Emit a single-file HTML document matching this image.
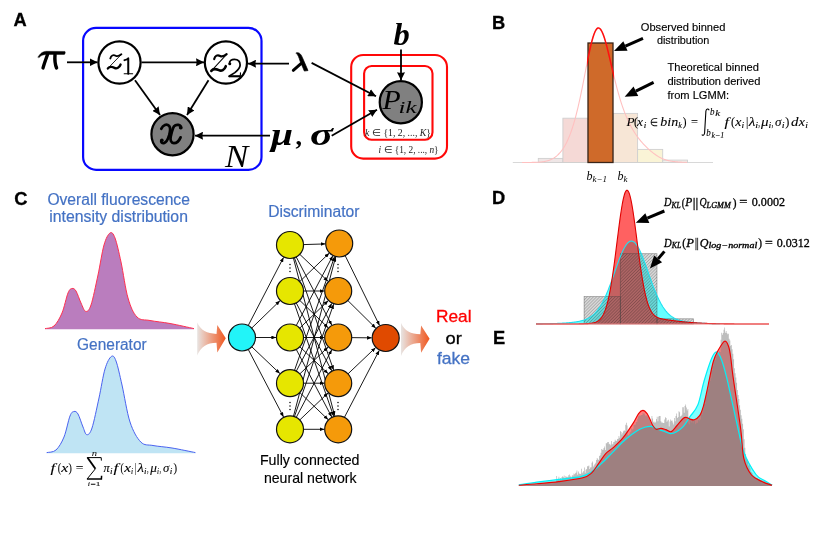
<!DOCTYPE html>
<html><head><meta charset="utf-8"><style>
html,body{margin:0;padding:0;background:#fff;}
svg{display:block;}
</style></head><body>
<svg width="822" height="560" viewBox="0 0 822 560" style="will-change:transform">
<rect width="822" height="560" fill="#fff"/>
<text x="13.6" y="25.8" font-family="Liberation Sans, sans-serif" font-weight="bold" font-size="18.3" stroke="#000" stroke-width="0.3">A</text>
<text x="492" y="29.2" font-family="Liberation Sans, sans-serif" font-weight="bold" font-size="18.3" stroke="#000" stroke-width="0.3">B</text>
<text x="14.2" y="204.5" font-family="Liberation Sans, sans-serif" font-weight="bold" font-size="18.3" stroke="#000" stroke-width="0.3">C</text>
<text x="492" y="204.2" font-family="Liberation Sans, sans-serif" font-weight="bold" font-size="18.3" stroke="#000" stroke-width="0.3">D</text>
<text x="493" y="343.8" font-family="Liberation Sans, sans-serif" font-weight="bold" font-size="18.3" stroke="#000" stroke-width="0.3">E</text>
<defs><marker id="ah" viewBox="0 0 10 10" refX="10" refY="5" markerWidth="8" markerHeight="8" markerUnits="userSpaceOnUse" orient="auto"><path d="M0,0 L10,5 L0,10 L0.8,5 z" fill="#000"/></marker></defs>
<rect x="83.1" y="27.9" width="178.4" height="142" rx="13" fill="none" stroke="#0808ff" stroke-width="2.2"/>
<rect x="351.2" y="55" width="95.8" height="103.6" rx="12" fill="none" stroke="#ff0808" stroke-width="2.1"/>
<rect x="364.1" y="66" width="68.4" height="73.8" rx="7.5" fill="none" stroke="#ff0808" stroke-width="2.1"/>
<line x1="67" y1="62.3" x2="97.5" y2="62.3" stroke="#000" stroke-width="1.8" marker-end="url(#ah)"/>
<line x1="141.5" y1="62.3" x2="204" y2="62.3" stroke="#000" stroke-width="1.8" marker-end="url(#ah)"/>
<line x1="135" y1="80.2" x2="160" y2="115" stroke="#000" stroke-width="1.8" marker-end="url(#ah)"/>
<line x1="208.5" y1="80.2" x2="187" y2="115" stroke="#000" stroke-width="1.8" marker-end="url(#ah)"/>
<line x1="270" y1="135.7" x2="195" y2="135.7" stroke="#000" stroke-width="1.8" marker-end="url(#ah)"/>
<line x1="289" y1="63.7" x2="248" y2="63.7" stroke="#000" stroke-width="1.8" marker-end="url(#ah)"/>
<line x1="311.6" y1="62.9" x2="376" y2="96.3" stroke="#000" stroke-width="1.8" marker-end="url(#ah)"/>
<line x1="331.7" y1="135.7" x2="377" y2="109.7" stroke="#000" stroke-width="1.8" marker-end="url(#ah)"/>
<line x1="401" y1="49.5" x2="401" y2="80.3" stroke="#000" stroke-width="1.8" marker-end="url(#ah)"/>
<circle cx="119.5" cy="62.5" r="21.1" fill="#fff" stroke="#000" stroke-width="2.2"/>
<circle cx="225.9" cy="62.5" r="21.1" fill="#fff" stroke="#000" stroke-width="2.2"/>
<circle cx="172.5" cy="134.2" r="21.1" fill="#808080" stroke="#000" stroke-width="2.2"/>
<circle cx="400.8" cy="102.2" r="21.1" fill="#808080" stroke="#000" stroke-width="2.2"/>
<g transform="translate(100,45) scale(0.06250)" fill="none" stroke="#000" stroke-linecap="round" stroke-linejoin="round"><path d="M165,215 C178,168 212,150 250,172 C285,192 312,172 342,148" stroke-width="30"/><path d="M342,150 L122,378" stroke-width="14"/><path d="M125,376 C152,342 192,348 232,366 C268,384 312,362 330,312" stroke-width="36"/><path d="M392,242 C420,238 440,228 452,214 L452,458" stroke-width="32"/><path d="M387,459 L522,459" stroke-width="18"/></g>
<g transform="translate(205,45) scale(0.0625)" fill="none" stroke="#000" stroke-linecap="round" stroke-linejoin="round"><g transform="translate(-40,0) scale(1.13,1.17) translate(0,-22)"><path d="M165,215 C178,168 212,150 250,172 C285,192 312,172 342,148" stroke-width="30"/><path d="M342,150 L122,378" stroke-width="14"/><path d="M125,376 C152,342 192,348 232,366 C268,384 312,362 330,312" stroke-width="36"/></g><path d="M394,298 C386,254 426,228 470,228 C530,228 562,268 562,318 C562,366 528,400 478,442 L384,500" stroke-width="28"/><path d="M384,500 L562,500" stroke-width="34" stroke-linecap="butt"/><path d="M564,512 L568,446" stroke-width="18"/><circle cx="396" cy="298" r="24" fill="#000" stroke="none"/></g>
<g transform="translate(145,105) scale(0.10715)" fill="none" stroke="#000" stroke-linecap="round" stroke-linejoin="round"><path d="M152,222 C168,186 202,172 226,196 C242,216 236,245 226,282 C214,322 204,350 176,356 C158,358 148,348 152,332" stroke-width="26"/><circle cx="158" cy="328" r="16" fill="#000" stroke="none"/><path d="M338,214 C334,182 292,176 270,200 C256,220 250,252 240,292 C232,330 246,356 270,356 C298,356 320,330 332,302" stroke-width="26"/><circle cx="332" cy="212" r="16" fill="#000" stroke="none"/></g>
<g transform="translate(30,40) scale(0.07143)" fill="none" stroke="#000" stroke-linecap="round" stroke-linejoin="round"><path d="M112,238 C140,190 180,158 230,158 L488,160 C498,166 494,190 482,202 L232,204 C186,204 152,214 128,246 z" fill="#000" stroke-width="6"/><path d="M245,205 C225,260 200,330 182,392" stroke-width="46"/><path d="M350,205 C345,270 350,340 372,392" stroke-width="48"/></g>
<g transform="translate(265,45) scale(0.08518)" fill="none" stroke="#000" stroke-linecap="round" stroke-linejoin="round"><path d="M368,92 C398,84 420,100 440,150 L505,300 L462,306 L412,190 C396,140 388,116 372,104 z" fill="#000" stroke-width="8"/><path d="M422,218 L332,298" stroke-width="34"/></g>
<text x="271" y="144.6" font-family="Liberation Serif, serif" font-style="italic" font-weight="bold" font-size="31" textLength="22" lengthAdjust="spacingAndGlyphs">μ</text>
<text x="295.5" y="145" font-family="Liberation Serif, serif" font-weight="bold" font-size="26">,</text>
<text x="310" y="144.6" font-family="Liberation Serif, serif" font-style="italic" font-weight="bold" font-size="31" textLength="23" lengthAdjust="spacingAndGlyphs">σ</text>
<text x="393.5" y="45.3" font-family="Liberation Serif, serif" font-style="italic" font-weight="bold" font-size="32.5">b</text>
<text x="225.05" y="166.8" font-family="Liberation Serif, serif" font-style="italic" font-size="32" fill="#000" textLength="23.28" lengthAdjust="spacingAndGlyphs">N</text>
<text x="382.6" y="108.6" font-family="Liberation Serif, serif" font-style="italic" font-size="26.5" textLength="18.2" lengthAdjust="spacingAndGlyphs">P</text>
<text x="398.6" y="112.8" font-family="Liberation Serif, serif" font-style="italic" font-size="17.5" textLength="18" lengthAdjust="spacingAndGlyphs">ik</text>
<text x="365" y="135.5" font-family="Liberation Serif, serif" font-style="italic" font-size="9.5" fill="#222" textLength="66" lengthAdjust="spacingAndGlyphs">k <tspan font-style="normal">∈ {1, 2, ..., </tspan>K<tspan font-style="normal">}</tspan></text>
<text x="378.6" y="153" font-family="Liberation Serif, serif" font-style="italic" font-size="9.5" fill="#222" textLength="60" lengthAdjust="spacingAndGlyphs">i <tspan font-style="normal">∈ {1, 2, ..., </tspan>n<tspan font-style="normal">}</tspan></text>
<line x1="512.8" y1="162.5" x2="713" y2="162.5" stroke="#d8d8d8" stroke-width="1.2"/>
<rect x="538.3" y="158.4" width="24.6" height="4.1" fill="#efe6e6" stroke="#cfcfcf" stroke-width="0.9"/>
<rect x="562.9" y="118.2" width="24.8" height="44.3" fill="#f5d9d6" stroke="#cfcfcf" stroke-width="0.9"/>
<rect x="613.3" y="113.4" width="24.3" height="49.1" fill="#f7e6d6" stroke="#cfcfcf" stroke-width="0.9"/>
<rect x="637.6" y="149.4" width="25.1" height="13.1" fill="#faf4d6" stroke="#cfcfcf" stroke-width="0.9"/>
<rect x="662.7" y="160.1" width="24.8" height="2.4" fill="#f0f0ec" stroke="#cfcfcf" stroke-width="0.9"/>
<path d="M522.00,162.49 L522.50,162.49 L523.00,162.49 L523.50,162.49 L524.00,162.49 L524.50,162.49 L525.00,162.49 L525.50,162.48 L526.00,162.48 L526.50,162.48 L527.00,162.48 L527.50,162.47 L528.00,162.47 L528.50,162.47 L529.00,162.46 L529.50,162.46 L530.00,162.45 L530.50,162.44 L531.00,162.44 L531.50,162.43 L532.00,162.42 L532.50,162.41 L533.00,162.40 L533.50,162.39 L534.00,162.38 L534.50,162.36 L535.00,162.35 L535.50,162.33 L536.00,162.31 L536.50,162.29 L537.00,162.27 L537.50,162.25 L538.00,162.22 L538.50,162.19 L539.00,162.15 L539.50,162.12 L540.00,162.08 L540.50,162.03 L541.00,161.99 L541.50,161.93 L542.00,161.88 L542.50,161.82 L543.00,161.75 L543.50,161.68 L544.00,161.60 L544.50,161.51 L545.00,161.41 L545.50,161.31 L546.00,161.20 L546.50,161.08 L547.00,160.95 L547.50,160.81 L548.00,160.66 L548.50,160.50 L549.00,160.33 L549.50,160.14 L550.00,159.94 L550.50,159.74 L551.00,159.51 L551.50,159.28 L552.00,159.03 L552.50,158.77 L553.00,158.49 L553.50,158.20 L554.00,157.89 L554.50,157.56 L555.00,157.22 L555.50,156.85 L556.00,156.47 L556.50,156.07 L557.00,155.65 L557.50,155.21 L558.00,154.75 L558.50,154.26 L559.00,153.75 L559.50,153.22 L560.00,152.66 L560.50,152.08 L561.00,151.46 L561.50,150.82 L562.00,150.15 L562.50,149.46 L563.00,148.73 L563.50,147.96 L564.00,147.17 L564.50,146.34 L565.00,145.48 L565.50,144.57 L566.00,143.64 L566.50,142.66 L567.00,141.64 L567.50,140.58 L568.00,139.48 L568.50,138.34 L569.00,137.15 L569.50,135.92 L570.00,134.64 L570.50,133.32 L571.00,131.94 L571.50,130.52 L572.00,129.05 L572.50,127.52 L573.00,125.94 L573.50,124.31 L574.00,122.63 L574.50,120.90 L575.00,119.11 L575.50,117.27 L576.00,115.37 L576.50,113.42 L577.00,111.42 L577.50,109.37 L578.00,107.27 L578.50,105.11 L579.00,102.91 L579.50,100.66 L580.00,98.36 L580.50,96.02 L581.00,93.64 L581.50,91.22 L582.00,88.77 L582.50,86.29 L583.00,83.78 L583.50,81.25 L584.00,78.70 L584.50,76.14 L585.00,73.57 L585.50,71.00 L586.00,68.44 L586.50,65.89 L587.00,63.35 L587.50,60.85 L588.00,58.37 L588.50,55.94 L589.00,53.56 L589.50,51.23 L590.00,48.97 L590.50,46.79 L591.00,44.69 L591.50,42.67 L592.00,40.76 L592.50,38.95 L593.00,37.26 L593.50,35.69 L594.00,34.25 L594.50,32.94 L595.00,31.78 L595.50,30.76 L596.00,29.90 L596.50,29.20 L597.00,28.65 L597.50,28.27 L598.00,28.05 L598.50,28.00 L599.00,28.11 L599.50,28.36 L600.00,28.76 L600.50,29.31 L601.00,29.99 L601.50,30.82 L602.00,31.77 L602.50,32.85 L603.00,34.06 L603.50,35.38 L604.00,36.80 L604.50,38.33 L605.00,39.95 L605.50,41.65 L606.00,43.43 L606.50,45.28 L607.00,47.18 L607.50,49.15 L608.00,51.15 L608.50,53.20 L609.00,55.28 L609.50,57.38 L610.00,59.50 L610.50,61.63 L611.00,63.77 L611.50,65.90 L612.00,68.04 L612.50,70.16 L613.00,72.27 L613.50,74.36 L614.00,76.44 L614.50,78.48 L615.00,80.50 L615.50,82.50 L616.00,84.46 L616.50,86.38 L617.00,88.27 L617.50,90.13 L618.00,91.95 L618.50,93.73 L619.00,95.47 L619.50,97.18 L620.00,98.84 L620.50,100.47 L621.00,102.05 L621.50,103.60 L622.00,105.11 L622.50,106.58 L623.00,108.02 L623.50,109.42 L624.00,110.78 L624.50,112.10 L625.00,113.39 L625.50,114.65 L626.00,115.87 L626.50,117.06 L627.00,118.22 L627.50,119.35 L628.00,120.45 L628.50,121.52 L629.00,122.57 L629.50,123.58 L630.00,124.57 L630.50,125.54 L631.00,126.48 L631.50,127.39 L632.00,128.29 L632.50,129.16 L633.00,130.01 L633.50,130.84 L634.00,131.65 L634.50,132.44 L635.00,133.21 L635.50,133.97 L636.00,134.71 L636.50,135.43 L637.00,136.13 L637.50,136.82 L638.00,137.50 L638.50,138.16 L639.00,138.81 L639.50,139.44 L640.00,140.07 L640.50,140.68 L641.00,141.28 L641.50,141.86 L642.00,142.44 L642.50,143.00 L643.00,143.56 L643.50,144.10 L644.00,144.64 L644.50,145.16 L645.00,145.68 L645.50,146.18 L646.00,146.68 L646.50,147.17 L647.00,147.65 L647.50,148.13 L648.00,148.59 L648.50,149.05 L649.00,149.50 L649.50,149.94 L650.00,150.38 L650.50,150.80 L651.00,151.22 L651.50,151.64 L652.00,152.04 L652.50,152.44 L653.00,152.83 L653.50,153.22 L654.00,153.59 L654.50,153.96 L655.00,154.32 L655.50,154.68 L656.00,155.03 L656.50,155.37 L657.00,155.70 L657.50,156.02 L658.00,156.34 L658.50,156.65 L659.00,156.95 L659.50,157.24 L660.00,157.51 L660.50,157.77 L661.00,158.02 L661.50,158.26 L662.00,158.48 L662.50,158.70 L663.00,158.91 L663.50,159.10 L664.00,159.29 L664.50,159.47 L665.00,159.64 L665.50,159.80 L666.00,159.95 L666.50,160.10 L667.00,160.24 L667.50,160.37 L668.00,160.49 L668.50,160.61 L669.00,160.72 L669.50,160.83 L670.00,160.93 L670.50,161.02 L671.00,161.11 L671.50,161.20 L672.00,161.28 L672.50,161.36 L673.00,161.43 L673.50,161.49 L674.00,161.56 L674.50,161.62 L675.00,161.67 L675.50,161.73 L676.00,161.78 L676.50,161.83 L677.00,161.87 L677.50,161.91 L678.00,161.95 L678.50,161.99 L679.00,162.02 L679.50,162.05 L680.00,162.08 L680.50,162.11 L681.00,162.14 L681.50,162.16 L682.00,162.19 L682.50,162.21 L683.00,162.23 L683.50,162.25 L684.00,162.27 L684.50,162.28 L685.00,162.30 L685.50,162.31 L686.00,162.33 L686.50,162.34 L687.00,162.35" fill="none" stroke="#ffc0c0" stroke-width="1.1"/>
<rect x="588" y="43" width="25" height="119.5" fill="#cf6a2a" stroke="#3a2418" stroke-width="1.3"/>
<clipPath id="cb"><rect x="587" y="0" width="27" height="200"/></clipPath>
<path d="M522.00,162.49 L522.50,162.49 L523.00,162.49 L523.50,162.49 L524.00,162.49 L524.50,162.49 L525.00,162.49 L525.50,162.48 L526.00,162.48 L526.50,162.48 L527.00,162.48 L527.50,162.47 L528.00,162.47 L528.50,162.47 L529.00,162.46 L529.50,162.46 L530.00,162.45 L530.50,162.44 L531.00,162.44 L531.50,162.43 L532.00,162.42 L532.50,162.41 L533.00,162.40 L533.50,162.39 L534.00,162.38 L534.50,162.36 L535.00,162.35 L535.50,162.33 L536.00,162.31 L536.50,162.29 L537.00,162.27 L537.50,162.25 L538.00,162.22 L538.50,162.19 L539.00,162.15 L539.50,162.12 L540.00,162.08 L540.50,162.03 L541.00,161.99 L541.50,161.93 L542.00,161.88 L542.50,161.82 L543.00,161.75 L543.50,161.68 L544.00,161.60 L544.50,161.51 L545.00,161.41 L545.50,161.31 L546.00,161.20 L546.50,161.08 L547.00,160.95 L547.50,160.81 L548.00,160.66 L548.50,160.50 L549.00,160.33 L549.50,160.14 L550.00,159.94 L550.50,159.74 L551.00,159.51 L551.50,159.28 L552.00,159.03 L552.50,158.77 L553.00,158.49 L553.50,158.20 L554.00,157.89 L554.50,157.56 L555.00,157.22 L555.50,156.85 L556.00,156.47 L556.50,156.07 L557.00,155.65 L557.50,155.21 L558.00,154.75 L558.50,154.26 L559.00,153.75 L559.50,153.22 L560.00,152.66 L560.50,152.08 L561.00,151.46 L561.50,150.82 L562.00,150.15 L562.50,149.46 L563.00,148.73 L563.50,147.96 L564.00,147.17 L564.50,146.34 L565.00,145.48 L565.50,144.57 L566.00,143.64 L566.50,142.66 L567.00,141.64 L567.50,140.58 L568.00,139.48 L568.50,138.34 L569.00,137.15 L569.50,135.92 L570.00,134.64 L570.50,133.32 L571.00,131.94 L571.50,130.52 L572.00,129.05 L572.50,127.52 L573.00,125.94 L573.50,124.31 L574.00,122.63 L574.50,120.90 L575.00,119.11 L575.50,117.27 L576.00,115.37 L576.50,113.42 L577.00,111.42 L577.50,109.37 L578.00,107.27 L578.50,105.11 L579.00,102.91 L579.50,100.66 L580.00,98.36 L580.50,96.02 L581.00,93.64 L581.50,91.22 L582.00,88.77 L582.50,86.29 L583.00,83.78 L583.50,81.25 L584.00,78.70 L584.50,76.14 L585.00,73.57 L585.50,71.00 L586.00,68.44 L586.50,65.89 L587.00,63.35 L587.50,60.85 L588.00,58.37 L588.50,55.94 L589.00,53.56 L589.50,51.23 L590.00,48.97 L590.50,46.79 L591.00,44.69 L591.50,42.67 L592.00,40.76 L592.50,38.95 L593.00,37.26 L593.50,35.69 L594.00,34.25 L594.50,32.94 L595.00,31.78 L595.50,30.76 L596.00,29.90 L596.50,29.20 L597.00,28.65 L597.50,28.27 L598.00,28.05 L598.50,28.00 L599.00,28.11 L599.50,28.36 L600.00,28.76 L600.50,29.31 L601.00,29.99 L601.50,30.82 L602.00,31.77 L602.50,32.85 L603.00,34.06 L603.50,35.38 L604.00,36.80 L604.50,38.33 L605.00,39.95 L605.50,41.65 L606.00,43.43 L606.50,45.28 L607.00,47.18 L607.50,49.15 L608.00,51.15 L608.50,53.20 L609.00,55.28 L609.50,57.38 L610.00,59.50 L610.50,61.63 L611.00,63.77 L611.50,65.90 L612.00,68.04 L612.50,70.16 L613.00,72.27 L613.50,74.36 L614.00,76.44 L614.50,78.48 L615.00,80.50 L615.50,82.50 L616.00,84.46 L616.50,86.38 L617.00,88.27 L617.50,90.13 L618.00,91.95 L618.50,93.73 L619.00,95.47 L619.50,97.18 L620.00,98.84 L620.50,100.47 L621.00,102.05 L621.50,103.60 L622.00,105.11 L622.50,106.58 L623.00,108.02 L623.50,109.42 L624.00,110.78 L624.50,112.10 L625.00,113.39 L625.50,114.65 L626.00,115.87 L626.50,117.06 L627.00,118.22 L627.50,119.35 L628.00,120.45 L628.50,121.52 L629.00,122.57 L629.50,123.58 L630.00,124.57 L630.50,125.54 L631.00,126.48 L631.50,127.39 L632.00,128.29 L632.50,129.16 L633.00,130.01 L633.50,130.84 L634.00,131.65 L634.50,132.44 L635.00,133.21 L635.50,133.97 L636.00,134.71 L636.50,135.43 L637.00,136.13 L637.50,136.82 L638.00,137.50 L638.50,138.16 L639.00,138.81 L639.50,139.44 L640.00,140.07 L640.50,140.68 L641.00,141.28 L641.50,141.86 L642.00,142.44 L642.50,143.00 L643.00,143.56 L643.50,144.10 L644.00,144.64 L644.50,145.16 L645.00,145.68 L645.50,146.18 L646.00,146.68 L646.50,147.17 L647.00,147.65 L647.50,148.13 L648.00,148.59 L648.50,149.05 L649.00,149.50 L649.50,149.94 L650.00,150.38 L650.50,150.80 L651.00,151.22 L651.50,151.64 L652.00,152.04 L652.50,152.44 L653.00,152.83 L653.50,153.22 L654.00,153.59 L654.50,153.96 L655.00,154.32 L655.50,154.68 L656.00,155.03 L656.50,155.37 L657.00,155.70 L657.50,156.02 L658.00,156.34 L658.50,156.65 L659.00,156.95 L659.50,157.24 L660.00,157.51 L660.50,157.77 L661.00,158.02 L661.50,158.26 L662.00,158.48 L662.50,158.70 L663.00,158.91 L663.50,159.10 L664.00,159.29 L664.50,159.47 L665.00,159.64 L665.50,159.80 L666.00,159.95 L666.50,160.10 L667.00,160.24 L667.50,160.37 L668.00,160.49 L668.50,160.61 L669.00,160.72 L669.50,160.83 L670.00,160.93 L670.50,161.02 L671.00,161.11 L671.50,161.20 L672.00,161.28 L672.50,161.36 L673.00,161.43 L673.50,161.49 L674.00,161.56 L674.50,161.62 L675.00,161.67 L675.50,161.73 L676.00,161.78 L676.50,161.83 L677.00,161.87 L677.50,161.91 L678.00,161.95 L678.50,161.99 L679.00,162.02 L679.50,162.05 L680.00,162.08 L680.50,162.11 L681.00,162.14 L681.50,162.16 L682.00,162.19 L682.50,162.21 L683.00,162.23 L683.50,162.25 L684.00,162.27 L684.50,162.28 L685.00,162.30 L685.50,162.31 L686.00,162.33 L686.50,162.34 L687.00,162.35" fill="none" stroke="#ff1010" stroke-width="1.5" clip-path="url(#cb)"/>
<text x="640.80" y="30.8" font-family="Liberation Sans, sans-serif" font-size="11.7" fill="#000" stroke="#000" stroke-width="0.15" textLength="84.52" lengthAdjust="spacingAndGlyphs">Observed binned</text>
<text x="656.90" y="44.2" font-family="Liberation Sans, sans-serif" font-size="11.7" fill="#000" stroke="#000" stroke-width="0.15" textLength="52.51" lengthAdjust="spacingAndGlyphs">distribution</text>
<text x="667.40" y="70.8" font-family="Liberation Sans, sans-serif" font-size="11.7" fill="#000" stroke="#000" stroke-width="0.15" textLength="91.58" lengthAdjust="spacingAndGlyphs">Theoretical binned</text>
<text x="667.40" y="84.7" font-family="Liberation Sans, sans-serif" font-size="11.7" fill="#000" stroke="#000" stroke-width="0.15" textLength="92.99" lengthAdjust="spacingAndGlyphs">distribution derived</text>
<text x="667.40" y="98.9" font-family="Liberation Sans, sans-serif" font-size="11.7" fill="#000" stroke="#000" stroke-width="0.15" textLength="61.61" lengthAdjust="spacingAndGlyphs">from LGMM:</text>
<line x1="643" y1="38.3" x2="625.44" y2="46.05" stroke="#000" stroke-width="3.0"/>
<path d="M614.00,51.10 L623.32,41.25 L627.56,50.86 z" fill="#000"/>
<line x1="653.6" y1="82.3" x2="635.87" y2="91.19" stroke="#000" stroke-width="3.0"/>
<path d="M624.70,96.80 L633.52,86.50 L638.23,95.89 z" fill="#000"/>
<text x="626.63" y="126" font-family="Liberation Serif, serif" font-style="italic" font-size="13" fill="#000" stroke="#000" stroke-width="0.1" textLength="8.18" lengthAdjust="spacingAndGlyphs">P</text>
<text x="634.10" y="126" font-family="Liberation Serif, serif" font-size="13" fill="#000" stroke="#000" stroke-width="0.1" textLength="3.88" lengthAdjust="spacingAndGlyphs">(</text>
<text x="637.00" y="126" font-family="Liberation Serif, serif" font-style="italic" font-size="13" fill="#000" stroke="#000" stroke-width="0.1" textLength="5.98" lengthAdjust="spacingAndGlyphs">x</text>
<text x="643.70" y="127.8" font-family="Liberation Serif, serif" font-style="italic" font-size="8.5" fill="#000" stroke="#000" stroke-width="0.1" textLength="2.58" lengthAdjust="spacingAndGlyphs">i</text>
<text x="650.10" y="126" font-family="Liberation Serif, serif" font-size="10.5" fill="#000" stroke="#000" stroke-width="0.1" textLength="8.28" lengthAdjust="spacingAndGlyphs">∈</text>
<text x="660.30" y="126" font-family="Liberation Serif, serif" font-style="italic" font-size="13" fill="#000" stroke="#000" stroke-width="0.1" textLength="17.87" lengthAdjust="spacingAndGlyphs">bin</text>
<text x="678.20" y="127.8" font-family="Liberation Serif, serif" font-style="italic" font-size="8.5" fill="#000" stroke="#000" stroke-width="0.1" textLength="3.67" lengthAdjust="spacingAndGlyphs">k</text>
<text x="682.70" y="126" font-family="Liberation Serif, serif" font-size="13" fill="#000" stroke="#000" stroke-width="0.1" textLength="3.78" lengthAdjust="spacingAndGlyphs">)</text>
<text x="691.00" y="126" font-family="Liberation Serif, serif" font-size="13" fill="#000" stroke="#000" stroke-width="0.1" textLength="6.99" lengthAdjust="spacingAndGlyphs">=</text>
<path d="M709.2,110.2 C708.2,108.4 706.4,108.6 705.9,111 L704.6,133 C704.2,135.6 702.6,135.8 701.9,134.4" fill="none" stroke="#000" stroke-width="1.1"/>
<text x="710.10" y="114.6" font-family="Liberation Serif, serif" font-style="italic" font-size="9.5" fill="#000" stroke="#000" stroke-width="0.1" textLength="4.50" lengthAdjust="spacingAndGlyphs">b</text>
<text x="715.20" y="116.1" font-family="Liberation Serif, serif" font-style="italic" font-size="8" fill="#000" stroke="#000" stroke-width="0.1" textLength="4.92" lengthAdjust="spacingAndGlyphs">k</text>
<text x="706.30" y="136.4" font-family="Liberation Serif, serif" font-style="italic" font-size="9.5" fill="#000" stroke="#000" stroke-width="0.1" textLength="4.50" lengthAdjust="spacingAndGlyphs">b</text>
<text x="711.40" y="137.9" font-family="Liberation Serif, serif" font-style="italic" font-size="8" fill="#000" stroke="#000" stroke-width="0.1" textLength="12.79" lengthAdjust="spacingAndGlyphs">k−1</text>
<text x="724.60" y="125.7" font-family="Liberation Serif, serif" font-style="italic" font-size="13" fill="#000" stroke="#000" stroke-width="0.1" textLength="4.50" lengthAdjust="spacingAndGlyphs">f</text>
<text x="731.00" y="125.7" font-family="Liberation Serif, serif" font-size="13" fill="#000" stroke="#000" stroke-width="0.1" textLength="3.98" lengthAdjust="spacingAndGlyphs">(</text>
<text x="735.21" y="125.7" font-family="Liberation Serif, serif" font-style="italic" font-size="13" fill="#000" stroke="#000" stroke-width="0.1" textLength="6.17" lengthAdjust="spacingAndGlyphs">x</text>
<text x="741.60" y="127.5" font-family="Liberation Serif, serif" font-style="italic" font-size="8.5" fill="#000" stroke="#000" stroke-width="0.1" textLength="2.68" lengthAdjust="spacingAndGlyphs">i</text>
<text x="746.00" y="125.7" font-family="Liberation Serif, serif" font-size="13" fill="#000" stroke="#000" stroke-width="0.1" textLength="2.30" lengthAdjust="spacingAndGlyphs">|</text>
<text x="748.68" y="125.7" font-family="Liberation Serif, serif" font-style="italic" font-size="13" fill="#000" stroke="#000" stroke-width="0.1" textLength="6.59" lengthAdjust="spacingAndGlyphs">λ</text>
<text x="755.30" y="127.5" font-family="Liberation Serif, serif" font-style="italic" font-size="8.5" fill="#000" stroke="#000" stroke-width="0.1" textLength="2.88" lengthAdjust="spacingAndGlyphs">i</text>
<text x="758.20" y="125.7" font-family="Liberation Serif, serif" font-size="13" fill="#000" stroke="#000" stroke-width="0.1" textLength="1.70" lengthAdjust="spacingAndGlyphs">,</text>
<text x="761.08" y="125.7" font-family="Liberation Serif, serif" font-style="italic" font-size="13" fill="#000" stroke="#000" stroke-width="0.1" textLength="7.55" lengthAdjust="spacingAndGlyphs">μ</text>
<text x="768.60" y="127.5" font-family="Liberation Serif, serif" font-style="italic" font-size="8.5" fill="#000" stroke="#000" stroke-width="0.1" textLength="2.78" lengthAdjust="spacingAndGlyphs">i</text>
<text x="771.40" y="125.7" font-family="Liberation Serif, serif" font-size="13" fill="#000" stroke="#000" stroke-width="0.1" textLength="1.80" lengthAdjust="spacingAndGlyphs">,</text>
<text x="774.90" y="125.7" font-family="Liberation Serif, serif" font-style="italic" font-size="13" fill="#000" stroke="#000" stroke-width="0.1" textLength="6.48" lengthAdjust="spacingAndGlyphs">σ</text>
<text x="781.80" y="127.5" font-family="Liberation Serif, serif" font-style="italic" font-size="8.5" fill="#000" stroke="#000" stroke-width="0.1" textLength="2.88" lengthAdjust="spacingAndGlyphs">i</text>
<text x="785.30" y="125.7" font-family="Liberation Serif, serif" font-size="13" fill="#000" stroke="#000" stroke-width="0.1" textLength="4.08" lengthAdjust="spacingAndGlyphs">)</text>
<text x="791.10" y="125.7" font-family="Liberation Serif, serif" font-style="italic" font-size="13" fill="#000" stroke="#000" stroke-width="0.1" textLength="7.43" lengthAdjust="spacingAndGlyphs">d</text>
<text x="798.81" y="125.7" font-family="Liberation Serif, serif" font-style="italic" font-size="13" fill="#000" stroke="#000" stroke-width="0.1" textLength="6.17" lengthAdjust="spacingAndGlyphs">x</text>
<text x="805.20" y="127.5" font-family="Liberation Serif, serif" font-style="italic" font-size="8.5" fill="#000" stroke="#000" stroke-width="0.1" textLength="2.68" lengthAdjust="spacingAndGlyphs">i</text>
<text x="586.5" y="179.8" font-family="Liberation Serif, serif" font-style="italic" font-size="12">b<tspan font-size="9" dy="2">k−1</tspan></text>
<text x="617.4" y="179.8" font-family="Liberation Serif, serif" font-style="italic" font-size="12">b<tspan font-size="9" dy="2">k</tspan></text>
<text x="47.40" y="204.5" font-family="Liberation Sans, sans-serif" font-size="15.6" fill="#4472c4" stroke="#4472c4" stroke-width="0.2" textLength="142.51" lengthAdjust="spacingAndGlyphs">Overall fluorescence</text>
<text x="49.30" y="222" font-family="Liberation Sans, sans-serif" font-size="15.6" fill="#4472c4" stroke="#4472c4" stroke-width="0.2" textLength="138.64" lengthAdjust="spacingAndGlyphs">intensity distribution</text>
<text x="77.10" y="349.7" font-family="Liberation Sans, sans-serif" font-size="15.6" fill="#4472c4" stroke="#4472c4" stroke-width="0.2" textLength="69.56" lengthAdjust="spacingAndGlyphs">Generator</text>
<path d="M45.00,328.60 C46.50,328.17 51.17,328.60 54.00,326.00 C56.83,323.40 59.67,318.50 62.00,313.00 C64.33,307.50 66.33,297.08 68.00,293.00 C69.67,288.92 70.67,288.83 72.00,288.50 C73.33,288.17 74.50,288.58 76.00,291.00 C77.50,293.42 79.38,299.60 81.00,303.00 C82.62,306.40 84.03,311.07 85.70,311.40 C87.37,311.73 88.95,311.07 91.00,305.00 C93.05,298.93 95.83,285.00 98.00,275.00 C100.17,265.00 102.00,252.00 104.00,245.00 C106.00,238.00 108.17,234.17 110.00,233.00 C111.83,231.83 113.17,233.17 115.00,238.00 C116.83,242.83 118.83,252.00 121.00,262.00 C123.17,272.00 125.33,288.83 128.00,298.00 C130.67,307.17 133.33,313.25 137.00,317.00 C140.67,320.75 144.50,319.42 150.00,320.50 C155.50,321.58 162.67,322.15 170.00,323.50 C177.33,324.85 190.00,327.75 194.00,328.60 L194,329.3 L45,329.3 z" fill="#ba7dbe"/>
<path d="M45.00,328.60 C46.50,328.17 51.17,328.60 54.00,326.00 C56.83,323.40 59.67,318.50 62.00,313.00 C64.33,307.50 66.33,297.08 68.00,293.00 C69.67,288.92 70.67,288.83 72.00,288.50 C73.33,288.17 74.50,288.58 76.00,291.00 C77.50,293.42 79.38,299.60 81.00,303.00 C82.62,306.40 84.03,311.07 85.70,311.40 C87.37,311.73 88.95,311.07 91.00,305.00 C93.05,298.93 95.83,285.00 98.00,275.00 C100.17,265.00 102.00,252.00 104.00,245.00 C106.00,238.00 108.17,234.17 110.00,233.00 C111.83,231.83 113.17,233.17 115.00,238.00 C116.83,242.83 118.83,252.00 121.00,262.00 C123.17,272.00 125.33,288.83 128.00,298.00 C130.67,307.17 133.33,313.25 137.00,317.00 C140.67,320.75 144.50,319.42 150.00,320.50 C155.50,321.58 162.67,322.15 170.00,323.50 C177.33,324.85 190.00,327.75 194.00,328.60" fill="none" stroke="#ff3050" stroke-width="1"/>
<path d="M46.70,452.60 C48.25,452.17 53.12,452.60 56.00,450.00 C58.88,447.40 61.67,442.67 64.00,437.00 C66.33,431.33 68.33,420.25 70.00,416.00 C71.67,411.75 72.67,411.83 74.00,411.50 C75.33,411.17 76.50,411.42 78.00,414.00 C79.50,416.58 81.53,423.55 83.00,427.00 C84.47,430.45 85.30,434.53 86.80,434.70 C88.30,434.87 89.97,434.12 92.00,428.00 C94.03,421.88 96.83,407.83 99.00,398.00 C101.17,388.17 102.95,375.92 105.00,369.00 C107.05,362.08 109.47,357.83 111.30,356.50 C113.13,355.17 114.22,356.25 116.00,361.00 C117.78,365.75 119.67,374.83 122.00,385.00 C124.33,395.17 126.87,412.50 130.00,422.00 C133.13,431.50 136.97,438.08 140.80,442.00 C144.63,445.92 147.80,444.50 153.00,445.50 C158.20,446.50 164.93,446.82 172.00,448.00 C179.07,449.18 191.50,451.83 195.40,452.60 L195.4,453.3 L46.7,453.3 z" fill="#bfe4f4"/>
<path d="M46.70,452.60 C48.25,452.17 53.12,452.60 56.00,450.00 C58.88,447.40 61.67,442.67 64.00,437.00 C66.33,431.33 68.33,420.25 70.00,416.00 C71.67,411.75 72.67,411.83 74.00,411.50 C75.33,411.17 76.50,411.42 78.00,414.00 C79.50,416.58 81.53,423.55 83.00,427.00 C84.47,430.45 85.30,434.53 86.80,434.70 C88.30,434.87 89.97,434.12 92.00,428.00 C94.03,421.88 96.83,407.83 99.00,398.00 C101.17,388.17 102.95,375.92 105.00,369.00 C107.05,362.08 109.47,357.83 111.30,356.50 C113.13,355.17 114.22,356.25 116.00,361.00 C117.78,365.75 119.67,374.83 122.00,385.00 C124.33,395.17 126.87,412.50 130.00,422.00 C133.13,431.50 136.97,438.08 140.80,442.00 C144.63,445.92 147.80,444.50 153.00,445.50 C158.20,446.50 164.93,446.82 172.00,448.00 C179.07,449.18 191.50,451.83 195.40,452.60" fill="none" stroke="#4a62f0" stroke-width="1"/>
<text x="50.40" y="472" font-family="Liberation Serif, serif" font-style="italic" font-size="13" fill="#000" stroke="#000" stroke-width="0.1" textLength="4.78" lengthAdjust="spacingAndGlyphs">f</text>
<text x="57.70" y="472" font-family="Liberation Serif, serif" font-size="13" fill="#000" stroke="#000" stroke-width="0.1" textLength="3.38" lengthAdjust="spacingAndGlyphs">(</text>
<text x="61.34" y="472" font-family="Liberation Serif, serif" font-style="italic" font-size="13" fill="#000" stroke="#000" stroke-width="0.1" textLength="7.04" lengthAdjust="spacingAndGlyphs">x</text>
<text x="68.40" y="472" font-family="Liberation Serif, serif" font-size="13" fill="#000" stroke="#000" stroke-width="0.1" textLength="3.38" lengthAdjust="spacingAndGlyphs">)</text>
<text x="75.70" y="472" font-family="Liberation Serif, serif" font-size="13" fill="#000" stroke="#000" stroke-width="0.1" textLength="7.69" lengthAdjust="spacingAndGlyphs">=</text>
<path d="M86.9,457.6 L101.2,457.6 L101.4,460.6" fill="none" stroke="#000" stroke-width="1"/><path d="M87.6,457.8 L95.4,468.8" fill="none" stroke="#000" stroke-width="1.9"/><path d="M95.4,468.8 L87.2,478.9" fill="none" stroke="#000" stroke-width="1"/><path d="M86.9,479.1 L101.4,479.1 L101.6,475.8" fill="none" stroke="#000" stroke-width="1.5"/>
<text x="91.70" y="455.8" font-family="Liberation Serif, serif" font-style="italic" font-size="7.5" fill="#000" textLength="5.30" lengthAdjust="spacingAndGlyphs">n</text>
<text x="87.80" y="486.2" font-family="Liberation Serif, serif" font-style="italic" font-size="7" fill="#000" stroke="#000" stroke-width="0.1" textLength="2.18" lengthAdjust="spacingAndGlyphs">i</text>
<text x="90.60" y="486.2" font-family="Liberation Serif, serif" font-size="7" fill="#000" stroke="#000" stroke-width="0.1" textLength="9.89" lengthAdjust="spacingAndGlyphs">=1</text>
<text x="103.50" y="472.3" font-family="Liberation Serif, serif" font-style="italic" font-size="13" fill="#000" stroke="#000" stroke-width="0.1" textLength="6.20" lengthAdjust="spacingAndGlyphs">π</text>
<text x="110.10" y="473.90000000000003" font-family="Liberation Serif, serif" font-style="italic" font-size="8.5" fill="#000" stroke="#000" stroke-width="0.1" textLength="2.58" lengthAdjust="spacingAndGlyphs">i</text>
<text x="113.60" y="472.3" font-family="Liberation Serif, serif" font-style="italic" font-size="13" fill="#000" stroke="#000" stroke-width="0.1" textLength="4.85" lengthAdjust="spacingAndGlyphs">f</text>
<text x="120.60" y="472.3" font-family="Liberation Serif, serif" font-size="13" fill="#000" stroke="#000" stroke-width="0.1" textLength="3.18" lengthAdjust="spacingAndGlyphs">(</text>
<text x="124.23" y="472.3" font-family="Liberation Serif, serif" font-style="italic" font-size="13" fill="#000" stroke="#000" stroke-width="0.1" textLength="6.75" lengthAdjust="spacingAndGlyphs">x</text>
<text x="131.00" y="473.90000000000003" font-family="Liberation Serif, serif" font-style="italic" font-size="8.5" fill="#000" stroke="#000" stroke-width="0.1" textLength="2.08" lengthAdjust="spacingAndGlyphs">i</text>
<text x="134.60" y="472.3" font-family="Liberation Serif, serif" font-size="13" fill="#000" stroke="#000" stroke-width="0.1" textLength="1.60" lengthAdjust="spacingAndGlyphs">|</text>
<text x="137.57" y="472.3" font-family="Liberation Serif, serif" font-style="italic" font-size="13" fill="#000" stroke="#000" stroke-width="0.1" textLength="6.40" lengthAdjust="spacingAndGlyphs">λ</text>
<text x="144.00" y="473.90000000000003" font-family="Liberation Serif, serif" font-style="italic" font-size="8.5" fill="#000" stroke="#000" stroke-width="0.1" textLength="2.48" lengthAdjust="spacingAndGlyphs">i</text>
<text x="147.00" y="472.3" font-family="Liberation Serif, serif" font-size="13" fill="#000" stroke="#000" stroke-width="0.1" textLength="1.60" lengthAdjust="spacingAndGlyphs">,</text>
<text x="150.27" y="472.3" font-family="Liberation Serif, serif" font-style="italic" font-size="13" fill="#000" stroke="#000" stroke-width="0.1" textLength="6.66" lengthAdjust="spacingAndGlyphs">μ</text>
<text x="156.90" y="473.90000000000003" font-family="Liberation Serif, serif" font-style="italic" font-size="8.5" fill="#000" stroke="#000" stroke-width="0.1" textLength="1.98" lengthAdjust="spacingAndGlyphs">i</text>
<text x="159.50" y="472.3" font-family="Liberation Serif, serif" font-size="13" fill="#000" stroke="#000" stroke-width="0.1" textLength="1.50" lengthAdjust="spacingAndGlyphs">,</text>
<text x="163.10" y="472.3" font-family="Liberation Serif, serif" font-style="italic" font-size="13" fill="#000" stroke="#000" stroke-width="0.1" textLength="6.29" lengthAdjust="spacingAndGlyphs">σ</text>
<text x="169.80" y="473.90000000000003" font-family="Liberation Serif, serif" font-style="italic" font-size="8.5" fill="#000" stroke="#000" stroke-width="0.1" textLength="2.58" lengthAdjust="spacingAndGlyphs">i</text>
<text x="173.40" y="472.3" font-family="Liberation Serif, serif" font-size="13" fill="#000" stroke="#000" stroke-width="0.1" textLength="3.58" lengthAdjust="spacingAndGlyphs">)</text>
<text x="663.96" y="206.3" font-family="Liberation Serif, serif" font-style="italic" font-size="11.5" fill="#000" stroke="#000" stroke-width="0.3" textLength="7.47" lengthAdjust="spacingAndGlyphs">D</text>
<text x="671.51" y="207.5" font-family="Liberation Serif, serif" font-style="italic" font-size="7.6" fill="#000" stroke="#000" stroke-width="0.3" textLength="9.17" lengthAdjust="spacingAndGlyphs">KL</text>
<text x="681.80" y="207.10000000000002" font-family="Liberation Serif, serif" font-size="12.5" fill="#000" stroke="#000" stroke-width="0.3" textLength="3.28" lengthAdjust="spacingAndGlyphs">(</text>
<text x="685.21" y="206.3" font-family="Liberation Serif, serif" font-style="italic" font-size="11.5" fill="#000" stroke="#000" stroke-width="0.3" textLength="7.00" lengthAdjust="spacingAndGlyphs">P</text>
<text x="692.80" y="207.10000000000002" font-family="Liberation Serif, serif" font-size="12.5" fill="#000" stroke="#000" stroke-width="0.3" textLength="5.51" lengthAdjust="spacingAndGlyphs">||</text>
<text x="699.40" y="206.3" font-family="Liberation Serif, serif" font-style="italic" font-size="11.5" fill="#000" stroke="#000" stroke-width="0.3" textLength="7.12" lengthAdjust="spacingAndGlyphs">Q</text>
<text x="706.62" y="207.5" font-family="Liberation Serif, serif" font-style="italic" font-size="7.6" fill="#000" stroke="#000" stroke-width="0.3" textLength="24.10" lengthAdjust="spacingAndGlyphs">LGMM</text>
<text x="732.80" y="207.10000000000002" font-family="Liberation Serif, serif" font-size="12.5" fill="#000" stroke="#000" stroke-width="0.3" textLength="3.78" lengthAdjust="spacingAndGlyphs">)</text>
<text x="739.30" y="206.3" font-family="Liberation Serif, serif" font-size="11.5" fill="#000" stroke="#000" stroke-width="0.3" textLength="8.19" lengthAdjust="spacingAndGlyphs">=</text>
<text x="751.80" y="206.3" font-family="Liberation Serif, serif" font-size="11.5" fill="#000" stroke="#000" stroke-width="0.3" textLength="33.20" lengthAdjust="spacingAndGlyphs">0.0002</text>
<text x="663.96" y="246.5" font-family="Liberation Serif, serif" font-style="italic" font-size="11.5" fill="#000" stroke="#000" stroke-width="0.3" textLength="7.66" lengthAdjust="spacingAndGlyphs">D</text>
<text x="671.72" y="247.7" font-family="Liberation Serif, serif" font-style="italic" font-size="7.6" fill="#000" stroke="#000" stroke-width="0.3" textLength="9.57" lengthAdjust="spacingAndGlyphs">KL</text>
<text x="682.30" y="247.3" font-family="Liberation Serif, serif" font-size="12.5" fill="#000" stroke="#000" stroke-width="0.3" textLength="3.78" lengthAdjust="spacingAndGlyphs">(</text>
<text x="686.23" y="246.5" font-family="Liberation Serif, serif" font-style="italic" font-size="11.5" fill="#000" stroke="#000" stroke-width="0.3" textLength="7.69" lengthAdjust="spacingAndGlyphs">P</text>
<text x="694.90" y="247.3" font-family="Liberation Serif, serif" font-size="12.5" fill="#000" stroke="#000" stroke-width="0.3" textLength="3.90" lengthAdjust="spacingAndGlyphs">||</text>
<text x="699.80" y="246.5" font-family="Liberation Serif, serif" font-style="italic" font-size="11.5" fill="#000" stroke="#000" stroke-width="0.3" textLength="8.73" lengthAdjust="spacingAndGlyphs">Q</text>
<text x="708.50" y="247.7" font-family="Liberation Serif, serif" font-style="italic" font-size="7.6" fill="#000" stroke="#000" stroke-width="0.3" textLength="48.72" lengthAdjust="spacingAndGlyphs">log−normal</text>
<text x="758.20" y="247.3" font-family="Liberation Serif, serif" font-size="12.5" fill="#000" stroke="#000" stroke-width="0.3" textLength="3.78" lengthAdjust="spacingAndGlyphs">)</text>
<text x="765.00" y="246.5" font-family="Liberation Serif, serif" font-size="11.5" fill="#000" stroke="#000" stroke-width="0.3" textLength="7.79" lengthAdjust="spacingAndGlyphs">=</text>
<text x="776.70" y="246.5" font-family="Liberation Serif, serif" font-size="11.5" fill="#000" stroke="#000" stroke-width="0.3" textLength="33.00" lengthAdjust="spacingAndGlyphs">0.0312</text>
<defs><marker id="sah" viewBox="0 0 10 10" refX="10" refY="5" markerWidth="4.6" markerHeight="3.8" markerUnits="userSpaceOnUse" orient="auto" preserveAspectRatio="none"><path d="M0,0 L10,5 L0,10 z" fill="#000"/></marker></defs>
<line x1="248.22" y1="325.52" x2="283.55" y2="257.43" stroke="#000" stroke-width="0.9" marker-end="url(#sah)"/>
<line x1="251.70" y1="328.11" x2="279.94" y2="300.74" stroke="#000" stroke-width="0.9" marker-end="url(#sah)"/>
<line x1="255.50" y1="337.50" x2="276.00" y2="337.50" stroke="#000" stroke-width="0.9" marker-end="url(#sah)"/>
<line x1="251.78" y1="346.81" x2="279.86" y2="373.55" stroke="#000" stroke-width="0.9" marker-end="url(#sah)"/>
<line x1="248.26" y1="349.46" x2="283.51" y2="416.89" stroke="#000" stroke-width="0.9" marker-end="url(#sah)"/>
<line x1="303.49" y1="244.59" x2="325.21" y2="243.93" stroke="#000" stroke-width="0.9" marker-end="url(#sah)"/>
<line x1="299.77" y1="254.32" x2="328.07" y2="281.33" stroke="#000" stroke-width="0.9" marker-end="url(#sah)"/>
<line x1="296.24" y1="256.97" x2="331.73" y2="325.08" stroke="#000" stroke-width="0.9" marker-end="url(#sah)"/>
<line x1="294.45" y1="257.75" x2="333.59" y2="369.98" stroke="#000" stroke-width="0.9" marker-end="url(#sah)"/>
<line x1="293.42" y1="258.06" x2="334.66" y2="415.76" stroke="#000" stroke-width="0.9" marker-end="url(#sah)"/>
<line x1="299.71" y1="281.62" x2="329.13" y2="253.22" stroke="#000" stroke-width="0.9" marker-end="url(#sah)"/>
<line x1="303.50" y1="291.00" x2="324.20" y2="291.00" stroke="#000" stroke-width="0.9" marker-end="url(#sah)"/>
<line x1="299.72" y1="300.37" x2="328.12" y2="327.78" stroke="#000" stroke-width="0.9" marker-end="url(#sah)"/>
<line x1="296.25" y1="302.96" x2="331.71" y2="370.79" stroke="#000" stroke-width="0.9" marker-end="url(#sah)"/>
<line x1="294.44" y1="303.75" x2="333.59" y2="416.08" stroke="#000" stroke-width="0.9" marker-end="url(#sah)"/>
<line x1="296.26" y1="325.54" x2="332.71" y2="255.90" stroke="#000" stroke-width="0.9" marker-end="url(#sah)"/>
<line x1="299.72" y1="328.13" x2="328.12" y2="300.72" stroke="#000" stroke-width="0.9" marker-end="url(#sah)"/>
<line x1="303.50" y1="337.50" x2="324.20" y2="337.50" stroke="#000" stroke-width="0.9" marker-end="url(#sah)"/>
<line x1="299.80" y1="346.79" x2="328.04" y2="373.57" stroke="#000" stroke-width="0.9" marker-end="url(#sah)"/>
<line x1="296.28" y1="349.45" x2="331.69" y2="416.90" stroke="#000" stroke-width="0.9" marker-end="url(#sah)"/>
<line x1="294.48" y1="370.47" x2="334.55" y2="256.71" stroke="#000" stroke-width="0.9" marker-end="url(#sah)"/>
<line x1="296.25" y1="371.24" x2="331.71" y2="303.41" stroke="#000" stroke-width="0.9" marker-end="url(#sah)"/>
<line x1="299.80" y1="373.91" x2="328.04" y2="347.13" stroke="#000" stroke-width="0.9" marker-end="url(#sah)"/>
<line x1="303.50" y1="383.20" x2="324.20" y2="383.20" stroke="#000" stroke-width="0.9" marker-end="url(#sah)"/>
<line x1="299.76" y1="392.53" x2="328.08" y2="419.62" stroke="#000" stroke-width="0.9" marker-end="url(#sah)"/>
<line x1="293.46" y1="416.25" x2="335.62" y2="257.03" stroke="#000" stroke-width="0.9" marker-end="url(#sah)"/>
<line x1="294.44" y1="416.55" x2="333.59" y2="304.22" stroke="#000" stroke-width="0.9" marker-end="url(#sah)"/>
<line x1="296.28" y1="417.35" x2="331.69" y2="349.90" stroke="#000" stroke-width="0.9" marker-end="url(#sah)"/>
<line x1="299.76" y1="419.97" x2="328.08" y2="392.88" stroke="#000" stroke-width="0.9" marker-end="url(#sah)"/>
<line x1="303.50" y1="429.30" x2="324.20" y2="429.30" stroke="#000" stroke-width="0.9" marker-end="url(#sah)"/>
<line x1="345.16" y1="255.61" x2="379.52" y2="325.44" stroke="#000" stroke-width="0.9" marker-end="url(#sah)"/>
<line x1="347.80" y1="300.50" x2="375.75" y2="328.15" stroke="#000" stroke-width="0.9" marker-end="url(#sah)"/>
<line x1="351.70" y1="337.64" x2="371.70" y2="337.85" stroke="#000" stroke-width="0.9" marker-end="url(#sah)"/>
<line x1="347.98" y1="373.89" x2="375.56" y2="347.65" stroke="#000" stroke-width="0.9" marker-end="url(#sah)"/>
<line x1="344.43" y1="417.32" x2="379.24" y2="350.42" stroke="#000" stroke-width="0.9" marker-end="url(#sah)"/>
<circle cx="242" cy="337.5" r="13.5" fill="#22f4f8" stroke="#111" stroke-width="1.2"/>
<circle cx="290" cy="245" r="13.5" fill="#e6e600" stroke="#111" stroke-width="1.2"/>
<circle cx="290" cy="291" r="13.5" fill="#e6e600" stroke="#111" stroke-width="1.2"/>
<circle cx="290" cy="337.5" r="13.5" fill="#e6e600" stroke="#111" stroke-width="1.2"/>
<circle cx="290" cy="383.2" r="13.5" fill="#e6e600" stroke="#111" stroke-width="1.2"/>
<circle cx="290" cy="429.3" r="13.5" fill="#e6e600" stroke="#111" stroke-width="1.2"/>
<circle cx="339.2" cy="243.5" r="13.5" fill="#f59a0a" stroke="#111" stroke-width="1.2"/>
<circle cx="338.2" cy="291" r="13.5" fill="#f59a0a" stroke="#111" stroke-width="1.2"/>
<circle cx="338.2" cy="337.5" r="13.5" fill="#f59a0a" stroke="#111" stroke-width="1.2"/>
<circle cx="338.2" cy="383.2" r="13.5" fill="#f59a0a" stroke="#111" stroke-width="1.2"/>
<circle cx="338.2" cy="429.3" r="13.5" fill="#f59a0a" stroke="#111" stroke-width="1.2"/>
<circle cx="385.7" cy="338" r="13.5" fill="#e04a00" stroke="#111" stroke-width="1.2"/>
<circle cx="290" cy="264.5" r="0.75" fill="#000"/>
<circle cx="290" cy="268" r="0.75" fill="#000"/>
<circle cx="290" cy="271.5" r="0.75" fill="#000"/>
<circle cx="290" cy="402.5" r="0.75" fill="#000"/>
<circle cx="290" cy="406" r="0.75" fill="#000"/>
<circle cx="290" cy="409.5" r="0.75" fill="#000"/>
<circle cx="338" cy="264.5" r="0.75" fill="#000"/>
<circle cx="338" cy="268" r="0.75" fill="#000"/>
<circle cx="338" cy="271.5" r="0.75" fill="#000"/>
<circle cx="338" cy="402.5" r="0.75" fill="#000"/>
<circle cx="338" cy="406" r="0.75" fill="#000"/>
<circle cx="338" cy="409.5" r="0.75" fill="#000"/>
<text x="268.20" y="216.9" font-family="Liberation Sans, sans-serif" font-size="15.8" fill="#4472c4" stroke="#4472c4" stroke-width="0.2" textLength="91.29" lengthAdjust="spacingAndGlyphs">Discriminator</text>
<text x="259.90" y="465.2" font-family="Liberation Sans, sans-serif" font-size="14.2" fill="#000" stroke="#000" stroke-width="0.15" textLength="99.59" lengthAdjust="spacingAndGlyphs">Fully connected</text>
<text x="263.90" y="482.8" font-family="Liberation Sans, sans-serif" font-size="14.2" fill="#000" stroke="#000" stroke-width="0.15" textLength="92.62" lengthAdjust="spacingAndGlyphs">neural network</text>
<text x="436.00" y="321.9" font-family="Liberation Sans, sans-serif" font-size="17.4" fill="#ff0000" stroke="#ff0000" stroke-width="0.3" textLength="35.53" lengthAdjust="spacingAndGlyphs">Real</text>
<text x="445.60" y="343.75" font-family="Liberation Sans, sans-serif" font-size="17.4" fill="#000" stroke="#000" stroke-width="0.3" textLength="16.29" lengthAdjust="spacingAndGlyphs">or</text>
<text x="436.90" y="363.75" font-family="Liberation Sans, sans-serif" font-size="17.4" fill="#4472c4" stroke="#4472c4" stroke-width="0.3" textLength="33.10" lengthAdjust="spacingAndGlyphs">fake</text>
<defs><linearGradient id="chg" x1="0" y1="0" x2="1" y2="0"><stop offset="0" stop-color="#e8e4e2"/><stop offset="1" stop-color="#f0561e"/></linearGradient></defs>
<path d="M197.2,322.6 Q202.2,333.90000000000003 216.5,333.90000000000003 L217.29999999999998,325.0 L225.79999999999998,338.3 L217.29999999999998,352.40000000000003 L216.5,342.70000000000005 Q202.2,342.70000000000005 197.2,355.6 z" fill="url(#chg)"/>
<path d="M401,323 Q406.0,334.3 420.3,334.3 L421.1,325.4 L429.6,338.7 L421.1,352.8 L420.3,343.1 Q406.0,343.1 401,356.0 z" fill="url(#chg)"/>
<defs><pattern id="hatch" patternUnits="userSpaceOnUse" width="2.2" height="2.2" patternTransform="rotate(45)"><rect width="2.2" height="2.2" fill="rgba(110,110,110,0.28)"/><line x1="0" y1="0" x2="0" y2="2.2" stroke="rgba(0,0,0,0.46)" stroke-width="0.75"/></pattern></defs>
<path d="M536.00,323.90 L536.50,323.90 L537.00,323.89 L537.50,323.89 L538.00,323.88 L538.50,323.88 L539.00,323.87 L539.50,323.87 L540.00,323.86 L540.50,323.85 L541.00,323.85 L541.50,323.84 L542.00,323.83 L542.50,323.83 L543.00,323.82 L543.50,323.81 L544.00,323.80 L544.50,323.79 L545.00,323.78 L545.50,323.77 L546.00,323.76 L546.50,323.75 L547.00,323.74 L547.50,323.73 L548.00,323.72 L548.50,323.71 L549.00,323.70 L549.50,323.69 L550.00,323.67 L550.50,323.66 L551.00,323.65 L551.50,323.63 L552.00,323.62 L552.50,323.60 L553.00,323.59 L553.50,323.57 L554.00,323.55 L554.50,323.54 L555.00,323.52 L555.50,323.50 L556.00,323.48 L556.50,323.46 L557.00,323.44 L557.50,323.42 L558.00,323.40 L558.50,323.38 L559.00,323.35 L559.50,323.33 L560.00,323.31 L560.50,323.28 L561.00,323.25 L561.50,323.23 L562.00,323.20 L562.50,323.17 L563.00,323.14 L563.50,323.11 L564.00,323.08 L564.50,323.05 L565.00,323.01 L565.50,322.98 L566.00,322.94 L566.50,322.91 L567.00,322.87 L567.50,322.83 L568.00,322.79 L568.50,322.75 L569.00,322.70 L569.50,322.66 L570.00,322.61 L570.50,322.56 L571.00,322.51 L571.50,322.46 L572.00,322.41 L572.50,322.35 L573.00,322.29 L573.50,322.23 L574.00,322.17 L574.50,322.10 L575.00,322.03 L575.50,321.96 L576.00,321.88 L576.50,321.80 L577.00,321.72 L577.50,321.63 L578.00,321.54 L578.50,321.45 L579.00,321.35 L579.50,321.24 L580.00,321.14 L580.50,321.02 L581.00,320.90 L581.50,320.77 L582.00,320.64 L582.50,320.50 L583.00,320.35 L583.50,320.19 L584.00,320.03 L584.50,319.85 L585.00,319.67 L585.50,319.48 L586.00,319.28 L586.50,319.06 L587.00,318.84 L587.50,318.60 L588.00,318.35 L588.50,318.08 L589.00,317.81 L589.50,317.51 L590.00,317.21 L590.50,316.88 L591.00,316.54 L591.50,316.18 L592.00,315.80 L592.50,315.41 L593.00,314.99 L593.50,314.55 L594.00,314.10 L594.50,313.62 L595.00,313.11 L595.50,312.59 L596.00,312.03 L596.50,311.46 L597.00,310.86 L597.50,310.23 L598.00,309.58 L598.50,308.89 L599.00,308.18 L599.50,307.44 L600.00,306.68 L600.50,305.88 L601.00,305.05 L601.50,304.20 L602.00,303.31 L602.50,302.39 L603.00,301.45 L603.50,300.47 L604.00,299.46 L604.50,298.42 L605.00,297.36 L605.50,296.26 L606.00,295.14 L606.50,293.98 L607.00,292.80 L607.50,291.59 L608.00,290.36 L608.50,289.10 L609.00,287.82 L609.50,286.52 L610.00,285.20 L610.50,283.85 L611.00,282.49 L611.50,281.11 L612.00,279.72 L612.50,278.32 L613.00,276.91 L613.50,275.49 L614.00,274.06 L614.50,272.63 L615.00,271.20 L615.50,269.77 L616.00,268.35 L616.50,266.93 L617.00,265.53 L617.50,264.13 L618.00,262.75 L618.50,261.39 L619.00,260.06 L619.50,258.74 L620.00,257.45 L620.50,256.19 L621.00,254.97 L621.50,253.78 L622.00,252.63 L622.50,251.52 L623.00,250.45 L623.50,249.43 L624.00,248.46 L624.50,247.54 L625.00,246.67 L625.50,245.86 L626.00,245.11 L626.50,244.42 L627.00,243.78 L627.50,243.22 L628.00,242.71 L628.50,242.28 L629.00,241.91 L629.50,241.61 L630.00,241.38 L630.50,241.21 L631.00,241.12 L631.50,241.10 L632.00,241.15 L632.50,241.27 L633.00,241.46 L633.50,241.72 L634.00,242.05 L634.50,242.44 L635.00,242.91 L635.50,243.44 L636.00,244.03 L636.50,244.68 L637.00,245.40 L637.50,246.18 L638.00,247.01 L638.50,247.90 L639.00,248.84 L639.50,249.83 L640.00,250.87 L640.50,251.95 L641.00,253.08 L641.50,254.25 L642.00,255.45 L642.50,256.69 L643.00,257.96 L643.50,259.26 L644.00,260.59 L644.50,261.94 L645.00,263.30 L645.50,264.69 L646.00,266.09 L646.50,267.50 L647.00,268.92 L647.50,270.35 L648.00,271.77 L648.50,273.20 L649.00,274.63 L649.50,276.06 L650.00,277.47 L650.50,278.88 L651.00,280.28 L651.50,281.67 L652.00,283.04 L652.50,284.39 L653.00,285.73 L653.50,287.04 L654.00,288.34 L654.50,289.61 L655.00,290.86 L655.50,292.08 L656.00,293.28 L656.50,294.45 L657.00,295.59 L657.50,296.70 L658.00,297.79 L658.50,298.84 L659.00,299.87 L659.50,300.86 L660.00,301.83 L660.50,302.76 L661.00,303.67 L661.50,304.54 L662.00,305.39 L662.50,306.20 L663.00,306.99 L663.50,307.74 L664.00,308.47 L664.50,309.17 L665.00,309.84 L665.50,310.48 L666.00,311.10 L666.50,311.69 L667.00,312.26 L667.50,312.80 L668.00,313.32 L668.50,313.81 L669.00,314.28 L669.50,314.73 L670.00,315.16 L670.50,315.57 L671.00,315.96 L671.50,316.33 L672.00,316.68 L672.50,317.01 L673.00,317.33 L673.50,317.63 L674.00,317.92 L674.50,318.19 L675.00,318.45 L675.50,318.70 L676.00,318.93 L676.50,319.15 L677.00,319.36 L677.50,319.56 L678.00,319.75 L678.50,319.92 L679.00,320.09 L679.50,320.26 L680.00,320.41 L680.50,320.55 L681.00,320.69 L681.50,320.82 L682.00,320.95 L682.50,321.07 L683.00,321.18 L683.50,321.29 L684.00,321.39 L684.50,321.49 L685.00,321.58 L685.50,321.67 L686.00,321.75 L686.50,321.83 L687.00,321.91 L687.50,321.99 L688.00,322.06 L688.50,322.13 L689.00,322.19 L689.50,322.25 L690.00,322.31 L690.50,322.37 L691.00,322.43 L691.50,322.48 L692.00,322.53 L692.50,322.58 L693.00,322.63 L693.50,322.68 L694.00,322.72 L694.50,322.76 L695.00,322.81 L695.50,322.85 L696.00,322.88 L696.50,322.92 L697.00,322.96 L697.50,322.99 L698.00,323.03 L698.50,323.06 L699.00,323.09 L699.50,323.12 L700.00,323.15 L700.50,323.18 L701.00,323.21 L701.50,323.24 L702.00,323.27 L702.50,323.29 L703.00,323.32 L703.50,323.34 L704.00,323.36 L704.50,323.39 L705.00,323.41 L705.50,323.43 L706.00,323.45 L706.50,323.47 L707.00,323.49 L707.50,323.51 L708.00,323.53 L708.50,323.54 L709.00,323.56 L709.50,323.58 L710.00,323.59 L710.50,323.61 L711.00,323.62 L711.50,323.64 L712.00,323.65 L712.50,323.67 L713.00,323.68 L713.50,323.69 L714.00,323.70 L714.50,323.72 L715.00,323.73 L715.50,323.74 L716.00,323.75 L716.50,323.76 L717.00,323.77 L717.50,323.78 L718.00,323.79 L718.50,323.80 L719.00,323.80 L719.50,323.81 L720.00,323.82 z" fill="rgba(0,255,255,0.6)"/>
<path d="M536.00,324.00 L536.50,324.00 L537.00,324.00 L537.50,324.00 L538.00,324.00 L538.50,324.00 L539.00,324.00 L539.50,324.00 L540.00,324.00 L540.50,324.00 L541.00,324.00 L541.50,324.00 L542.00,324.00 L542.50,324.00 L543.00,324.00 L543.50,324.00 L544.00,324.00 L544.50,324.00 L545.00,324.00 L545.50,324.00 L546.00,324.00 L546.50,324.00 L547.00,324.00 L547.50,324.00 L548.00,324.00 L548.50,324.00 L549.00,324.00 L549.50,324.00 L550.00,324.00 L550.50,324.00 L551.00,324.00 L551.50,324.00 L552.00,324.00 L552.50,324.00 L553.00,324.00 L553.50,324.00 L554.00,324.00 L554.50,324.00 L555.00,324.00 L555.50,324.00 L556.00,324.00 L556.50,324.00 L557.00,324.00 L557.50,324.00 L558.00,324.00 L558.50,324.00 L559.00,324.00 L559.50,324.00 L560.00,324.00 L560.50,324.00 L561.00,324.00 L561.50,324.00 L562.00,324.00 L562.50,324.00 L563.00,324.00 L563.50,324.00 L564.00,324.00 L564.50,324.00 L565.00,324.00 L565.50,324.00 L566.00,324.00 L566.50,323.99 L567.00,323.99 L567.50,323.99 L568.00,323.99 L568.50,323.99 L569.00,323.99 L569.50,323.99 L570.00,323.99 L570.50,323.99 L571.00,323.99 L571.50,323.98 L572.00,323.98 L572.50,323.98 L573.00,323.98 L573.50,323.97 L574.00,323.97 L574.50,323.97 L575.00,323.97 L575.50,323.96 L576.00,323.96 L576.50,323.95 L577.00,323.95 L577.50,323.94 L578.00,323.94 L578.50,323.93 L579.00,323.92 L579.50,323.92 L580.00,323.91 L580.50,323.90 L581.00,323.89 L581.50,323.88 L582.00,323.87 L582.50,323.85 L583.00,323.84 L583.50,323.83 L584.00,323.81 L584.50,323.79 L585.00,323.77 L585.50,323.75 L586.00,323.73 L586.50,323.70 L587.00,323.67 L587.50,323.64 L588.00,323.60 L588.50,323.56 L589.00,323.52 L589.50,323.47 L590.00,323.42 L590.50,323.36 L591.00,323.30 L591.50,323.22 L592.00,323.14 L592.50,323.05 L593.00,322.95 L593.50,322.84 L594.00,322.71 L594.50,322.57 L595.00,322.41 L595.50,322.23 L596.00,322.03 L596.50,321.81 L597.00,321.56 L597.50,321.28 L598.00,320.96 L598.50,320.61 L599.00,320.22 L599.50,319.79 L600.00,319.31 L600.50,318.77 L601.00,318.17 L601.50,317.51 L602.00,316.78 L602.50,315.98 L603.00,315.10 L603.50,314.13 L604.00,313.07 L604.50,311.90 L605.00,310.64 L605.50,309.26 L606.00,307.77 L606.50,306.16 L607.00,304.42 L607.50,302.55 L608.00,300.54 L608.50,298.39 L609.00,296.11 L609.50,293.67 L610.00,291.10 L610.50,288.37 L611.00,285.51 L611.50,282.50 L612.00,279.35 L612.50,276.08 L613.00,272.67 L613.50,269.15 L614.00,265.52 L614.50,261.79 L615.00,257.98 L615.50,254.09 L616.00,250.15 L616.50,246.18 L617.00,242.18 L617.50,238.18 L618.00,234.20 L618.50,230.27 L619.00,226.39 L619.50,222.60 L620.00,218.92 L620.50,215.38 L621.00,211.98 L621.50,208.76 L622.00,205.74 L622.50,202.94 L623.00,200.37 L623.50,198.06 L624.00,196.02 L624.50,194.27 L625.00,192.82 L625.50,191.68 L626.00,190.86 L626.50,190.37 L627.00,190.20 L627.50,190.36 L628.00,190.84 L628.50,191.64 L629.00,192.75 L629.50,194.17 L630.00,195.87 L630.50,197.86 L631.00,200.11 L631.50,202.61 L632.00,205.34 L632.50,208.28 L633.00,211.42 L633.50,214.72 L634.00,218.18 L634.50,221.76 L635.00,225.44 L635.50,229.21 L636.00,233.03 L636.50,236.90 L637.00,240.78 L637.50,244.66 L638.00,248.52 L638.50,252.34 L639.00,256.10 L639.50,259.79 L640.00,263.40 L640.50,266.91 L641.00,270.32 L641.50,273.60 L642.00,276.77 L642.50,279.80 L643.00,282.70 L643.50,285.45 L644.00,288.07 L644.50,290.55 L645.00,292.88 L645.50,295.08 L646.00,297.13 L646.50,299.05 L647.00,300.84 L647.50,302.50 L648.00,304.04 L648.50,305.46 L649.00,306.76 L649.50,307.97 L650.00,309.07 L650.50,310.08 L651.00,310.99 L651.50,311.83 L652.00,312.59 L652.50,313.28 L653.00,313.91 L653.50,314.48 L654.00,314.99 L654.50,315.45 L655.00,315.87 L655.50,316.24 L656.00,316.58 L656.50,316.89 L657.00,317.16 L657.50,317.42 L658.00,317.64 L658.50,317.85 L659.00,318.04 L659.50,318.21 L660.00,318.37 L660.50,318.51 L661.00,318.65 L661.50,318.77 L662.00,318.89 L662.50,319.00 L663.00,319.10 L663.50,319.20 L664.00,319.29 L664.50,319.38 L665.00,319.47 L665.50,319.55 L666.00,319.63 L666.50,319.71 L667.00,319.79 L667.50,319.86 L668.00,319.93 L668.50,320.01 L669.00,320.08 L669.50,320.15 L670.00,320.22 L670.50,320.28 L671.00,320.35 L671.50,320.42 L672.00,320.48 L672.50,320.55 L673.00,320.61 L673.50,320.68 L674.00,320.74 L674.50,320.80 L675.00,320.86 L675.50,320.93 L676.00,320.99 L676.50,321.05 L677.00,321.11 L677.50,321.16 L678.00,321.22 L678.50,321.28 L679.00,321.34 L679.50,321.39 L680.00,321.45 L680.50,321.50 L681.00,321.56 L681.50,321.61 L682.00,321.66 L682.50,321.72 L683.00,321.77 L683.50,321.82 L684.00,321.87 L684.50,321.92 L685.00,321.97 L685.50,322.01 L686.00,322.06 L686.50,322.11 L687.00,322.15 L687.50,322.20 L688.00,322.24 L688.50,322.29 L689.00,322.33 L689.50,322.37 L690.00,322.41 L690.50,322.45 L691.00,322.49 L691.50,322.53 L692.00,322.57 L692.50,322.61 L693.00,322.64 L693.50,322.68 L694.00,322.72 L694.50,322.75 L695.00,322.78 L695.50,322.82 L696.00,322.85 L696.50,322.88 L697.00,322.91 L697.50,322.94 L698.00,322.97 L698.50,323.00 L699.00,323.03 L699.50,323.06 L700.00,323.09 L700.50,323.11 L701.00,323.14 L701.50,323.17 L702.00,323.19 L702.50,323.22 L703.00,323.24 L703.50,323.26 L704.00,323.29 L704.50,323.31 L705.00,323.33 L705.50,323.35 L706.00,323.37 L706.50,323.39 L707.00,323.41 L707.50,323.43 L708.00,323.45 L708.50,323.47 L709.00,323.48 L709.50,323.50 L710.00,323.52 L710.50,323.53 L711.00,323.55 L711.50,323.56 L712.00,323.58 L712.50,323.59 L713.00,323.61 L713.50,323.62 L714.00,323.63 L714.50,323.65 L715.00,323.66 L715.50,323.67 L716.00,323.68 L716.50,323.69 L717.00,323.71 L717.50,323.72 L718.00,323.73 L718.50,323.74 L719.00,323.75 L719.50,323.76 L720.00,323.76 L720.50,323.77 L721.00,323.78 L721.50,323.79 L722.00,323.80 L722.50,323.81 L723.00,323.81 L723.50,323.82 L724.00,323.83 L724.50,323.83 L725.00,323.84 L725.50,323.85 L726.00,323.85 L726.50,323.86 L727.00,323.86 L727.50,323.87 L728.00,323.88 L728.50,323.88 L729.00,323.89 L729.50,323.89 L730.00,323.89 L730.50,323.90 L731.00,323.90 L731.50,323.91 L732.00,323.91 L732.50,323.91 L733.00,323.92 L733.50,323.92 L734.00,323.92 L734.50,323.93 L735.00,323.93 L735.50,323.93 L736.00,323.94 L736.50,323.94 L737.00,323.94 L737.50,323.95 L738.00,323.95 L738.50,323.95 L739.00,323.95 L739.50,323.95 L740.00,323.96 L740.50,323.96 L741.00,323.96 L741.50,323.96 L742.00,323.96 L742.50,323.97 L743.00,323.97 L743.50,323.97 L744.00,323.97 L744.50,323.97 L745.00,323.97 L745.50,323.97 L746.00,323.98 L746.50,323.98 L747.00,323.98 L747.50,323.98 L748.00,323.98 L748.50,323.98 L749.00,323.98 L749.50,323.98 L750.00,323.98 L750.50,323.98 L751.00,323.98 L751.50,323.99 L752.00,323.99 L752.50,323.99 L753.00,323.99 L753.50,323.99 L754.00,323.99 L754.50,323.99 L755.00,323.99 L755.50,323.99 L756.00,323.99 L756.50,323.99 L757.00,323.99 L757.50,323.99 L758.00,323.99 L758.50,323.99 L759.00,323.99 L759.50,323.99 L760.00,323.99 L760.50,323.99 L761.00,323.99 L761.50,324.00 L762.00,324.00 L762.50,324.00 L763.00,324.00 L763.50,324.00 L764.00,324.00 L764.50,324.00 L765.00,324.00 L765.50,324.00 L766.00,324.00 L766.50,324.00 L767.00,324.00 L767.50,324.00 L768.00,324.00 L768.50,324.00 L769.00,324.00 z" fill="rgba(255,0,0,0.62)"/>
<rect x="584.1" y="296.6" width="36.2" height="27.4" fill="url(#hatch)" stroke="rgba(60,60,60,0.5)" stroke-width="0.7"/>
<rect x="620.3" y="253.7" width="36.7" height="70.3" fill="url(#hatch)" stroke="rgba(60,60,60,0.5)" stroke-width="0.7"/>
<rect x="657" y="318.8" width="36.5" height="5.2" fill="url(#hatch)" stroke="rgba(60,60,60,0.5)" stroke-width="0.7"/>
<path d="M536.00,323.90 L536.50,323.90 L537.00,323.89 L537.50,323.89 L538.00,323.88 L538.50,323.88 L539.00,323.87 L539.50,323.87 L540.00,323.86 L540.50,323.85 L541.00,323.85 L541.50,323.84 L542.00,323.83 L542.50,323.83 L543.00,323.82 L543.50,323.81 L544.00,323.80 L544.50,323.79 L545.00,323.78 L545.50,323.77 L546.00,323.76 L546.50,323.75 L547.00,323.74 L547.50,323.73 L548.00,323.72 L548.50,323.71 L549.00,323.70 L549.50,323.69 L550.00,323.67 L550.50,323.66 L551.00,323.65 L551.50,323.63 L552.00,323.62 L552.50,323.60 L553.00,323.59 L553.50,323.57 L554.00,323.55 L554.50,323.54 L555.00,323.52 L555.50,323.50 L556.00,323.48 L556.50,323.46 L557.00,323.44 L557.50,323.42 L558.00,323.40 L558.50,323.38 L559.00,323.35 L559.50,323.33 L560.00,323.31 L560.50,323.28 L561.00,323.25 L561.50,323.23 L562.00,323.20 L562.50,323.17 L563.00,323.14 L563.50,323.11 L564.00,323.08 L564.50,323.05 L565.00,323.01 L565.50,322.98 L566.00,322.94 L566.50,322.91 L567.00,322.87 L567.50,322.83 L568.00,322.79 L568.50,322.75 L569.00,322.70 L569.50,322.66 L570.00,322.61 L570.50,322.56 L571.00,322.51 L571.50,322.46 L572.00,322.41 L572.50,322.35 L573.00,322.29 L573.50,322.23 L574.00,322.17 L574.50,322.10 L575.00,322.03 L575.50,321.96 L576.00,321.88 L576.50,321.80 L577.00,321.72 L577.50,321.63 L578.00,321.54 L578.50,321.45 L579.00,321.35 L579.50,321.24 L580.00,321.14 L580.50,321.02 L581.00,320.90 L581.50,320.77 L582.00,320.64 L582.50,320.50 L583.00,320.35 L583.50,320.19 L584.00,320.03 L584.50,319.85 L585.00,319.67 L585.50,319.48 L586.00,319.28 L586.50,319.06 L587.00,318.84 L587.50,318.60 L588.00,318.35 L588.50,318.08 L589.00,317.81 L589.50,317.51 L590.00,317.21 L590.50,316.88 L591.00,316.54 L591.50,316.18 L592.00,315.80 L592.50,315.41 L593.00,314.99 L593.50,314.55 L594.00,314.10 L594.50,313.62 L595.00,313.11 L595.50,312.59 L596.00,312.03 L596.50,311.46 L597.00,310.86 L597.50,310.23 L598.00,309.58 L598.50,308.89 L599.00,308.18 L599.50,307.44 L600.00,306.68 L600.50,305.88 L601.00,305.05 L601.50,304.20 L602.00,303.31 L602.50,302.39 L603.00,301.45 L603.50,300.47 L604.00,299.46 L604.50,298.42 L605.00,297.36 L605.50,296.26 L606.00,295.14 L606.50,293.98 L607.00,292.80 L607.50,291.59 L608.00,290.36 L608.50,289.10 L609.00,287.82 L609.50,286.52 L610.00,285.20 L610.50,283.85 L611.00,282.49 L611.50,281.11 L612.00,279.72 L612.50,278.32 L613.00,276.91 L613.50,275.49 L614.00,274.06 L614.50,272.63 L615.00,271.20 L615.50,269.77 L616.00,268.35 L616.50,266.93 L617.00,265.53 L617.50,264.13 L618.00,262.75 L618.50,261.39 L619.00,260.06 L619.50,258.74 L620.00,257.45 L620.50,256.19 L621.00,254.97 L621.50,253.78 L622.00,252.63 L622.50,251.52 L623.00,250.45 L623.50,249.43 L624.00,248.46 L624.50,247.54 L625.00,246.67 L625.50,245.86 L626.00,245.11 L626.50,244.42 L627.00,243.78 L627.50,243.22 L628.00,242.71 L628.50,242.28 L629.00,241.91 L629.50,241.61 L630.00,241.38 L630.50,241.21 L631.00,241.12 L631.50,241.10 L632.00,241.15 L632.50,241.27 L633.00,241.46 L633.50,241.72 L634.00,242.05 L634.50,242.44 L635.00,242.91 L635.50,243.44 L636.00,244.03 L636.50,244.68 L637.00,245.40 L637.50,246.18 L638.00,247.01 L638.50,247.90 L639.00,248.84 L639.50,249.83 L640.00,250.87 L640.50,251.95 L641.00,253.08 L641.50,254.25 L642.00,255.45 L642.50,256.69 L643.00,257.96 L643.50,259.26 L644.00,260.59 L644.50,261.94 L645.00,263.30 L645.50,264.69 L646.00,266.09 L646.50,267.50 L647.00,268.92 L647.50,270.35 L648.00,271.77 L648.50,273.20 L649.00,274.63 L649.50,276.06 L650.00,277.47 L650.50,278.88 L651.00,280.28 L651.50,281.67 L652.00,283.04 L652.50,284.39 L653.00,285.73 L653.50,287.04 L654.00,288.34 L654.50,289.61 L655.00,290.86 L655.50,292.08 L656.00,293.28 L656.50,294.45 L657.00,295.59 L657.50,296.70 L658.00,297.79 L658.50,298.84 L659.00,299.87 L659.50,300.86 L660.00,301.83 L660.50,302.76 L661.00,303.67 L661.50,304.54 L662.00,305.39 L662.50,306.20 L663.00,306.99 L663.50,307.74 L664.00,308.47 L664.50,309.17 L665.00,309.84 L665.50,310.48 L666.00,311.10 L666.50,311.69 L667.00,312.26 L667.50,312.80 L668.00,313.32 L668.50,313.81 L669.00,314.28 L669.50,314.73 L670.00,315.16 L670.50,315.57 L671.00,315.96 L671.50,316.33 L672.00,316.68 L672.50,317.01 L673.00,317.33 L673.50,317.63 L674.00,317.92 L674.50,318.19 L675.00,318.45 L675.50,318.70 L676.00,318.93 L676.50,319.15 L677.00,319.36 L677.50,319.56 L678.00,319.75 L678.50,319.92 L679.00,320.09 L679.50,320.26 L680.00,320.41 L680.50,320.55 L681.00,320.69 L681.50,320.82 L682.00,320.95 L682.50,321.07 L683.00,321.18 L683.50,321.29 L684.00,321.39 L684.50,321.49 L685.00,321.58 L685.50,321.67 L686.00,321.75 L686.50,321.83 L687.00,321.91 L687.50,321.99 L688.00,322.06 L688.50,322.13 L689.00,322.19 L689.50,322.25 L690.00,322.31 L690.50,322.37 L691.00,322.43 L691.50,322.48 L692.00,322.53 L692.50,322.58 L693.00,322.63 L693.50,322.68 L694.00,322.72 L694.50,322.76 L695.00,322.81 L695.50,322.85 L696.00,322.88 L696.50,322.92 L697.00,322.96 L697.50,322.99 L698.00,323.03 L698.50,323.06 L699.00,323.09 L699.50,323.12 L700.00,323.15 L700.50,323.18 L701.00,323.21 L701.50,323.24 L702.00,323.27 L702.50,323.29 L703.00,323.32 L703.50,323.34 L704.00,323.36 L704.50,323.39 L705.00,323.41 L705.50,323.43 L706.00,323.45 L706.50,323.47 L707.00,323.49 L707.50,323.51 L708.00,323.53 L708.50,323.54 L709.00,323.56 L709.50,323.58 L710.00,323.59 L710.50,323.61 L711.00,323.62 L711.50,323.64 L712.00,323.65 L712.50,323.67 L713.00,323.68 L713.50,323.69 L714.00,323.70 L714.50,323.72 L715.00,323.73 L715.50,323.74 L716.00,323.75 L716.50,323.76 L717.00,323.77 L717.50,323.78 L718.00,323.79 L718.50,323.80 L719.00,323.80 L719.50,323.81 L720.00,323.82" fill="none" stroke="#20e0f0" stroke-width="1.1"/>
<path d="M536.00,324.00 L536.50,324.00 L537.00,324.00 L537.50,324.00 L538.00,324.00 L538.50,324.00 L539.00,324.00 L539.50,324.00 L540.00,324.00 L540.50,324.00 L541.00,324.00 L541.50,324.00 L542.00,324.00 L542.50,324.00 L543.00,324.00 L543.50,324.00 L544.00,324.00 L544.50,324.00 L545.00,324.00 L545.50,324.00 L546.00,324.00 L546.50,324.00 L547.00,324.00 L547.50,324.00 L548.00,324.00 L548.50,324.00 L549.00,324.00 L549.50,324.00 L550.00,324.00 L550.50,324.00 L551.00,324.00 L551.50,324.00 L552.00,324.00 L552.50,324.00 L553.00,324.00 L553.50,324.00 L554.00,324.00 L554.50,324.00 L555.00,324.00 L555.50,324.00 L556.00,324.00 L556.50,324.00 L557.00,324.00 L557.50,324.00 L558.00,324.00 L558.50,324.00 L559.00,324.00 L559.50,324.00 L560.00,324.00 L560.50,324.00 L561.00,324.00 L561.50,324.00 L562.00,324.00 L562.50,324.00 L563.00,324.00 L563.50,324.00 L564.00,324.00 L564.50,324.00 L565.00,324.00 L565.50,324.00 L566.00,324.00 L566.50,323.99 L567.00,323.99 L567.50,323.99 L568.00,323.99 L568.50,323.99 L569.00,323.99 L569.50,323.99 L570.00,323.99 L570.50,323.99 L571.00,323.99 L571.50,323.98 L572.00,323.98 L572.50,323.98 L573.00,323.98 L573.50,323.97 L574.00,323.97 L574.50,323.97 L575.00,323.97 L575.50,323.96 L576.00,323.96 L576.50,323.95 L577.00,323.95 L577.50,323.94 L578.00,323.94 L578.50,323.93 L579.00,323.92 L579.50,323.92 L580.00,323.91 L580.50,323.90 L581.00,323.89 L581.50,323.88 L582.00,323.87 L582.50,323.85 L583.00,323.84 L583.50,323.83 L584.00,323.81 L584.50,323.79 L585.00,323.77 L585.50,323.75 L586.00,323.73 L586.50,323.70 L587.00,323.67 L587.50,323.64 L588.00,323.60 L588.50,323.56 L589.00,323.52 L589.50,323.47 L590.00,323.42 L590.50,323.36 L591.00,323.30 L591.50,323.22 L592.00,323.14 L592.50,323.05 L593.00,322.95 L593.50,322.84 L594.00,322.71 L594.50,322.57 L595.00,322.41 L595.50,322.23 L596.00,322.03 L596.50,321.81 L597.00,321.56 L597.50,321.28 L598.00,320.96 L598.50,320.61 L599.00,320.22 L599.50,319.79 L600.00,319.31 L600.50,318.77 L601.00,318.17 L601.50,317.51 L602.00,316.78 L602.50,315.98 L603.00,315.10 L603.50,314.13 L604.00,313.07 L604.50,311.90 L605.00,310.64 L605.50,309.26 L606.00,307.77 L606.50,306.16 L607.00,304.42 L607.50,302.55 L608.00,300.54 L608.50,298.39 L609.00,296.11 L609.50,293.67 L610.00,291.10 L610.50,288.37 L611.00,285.51 L611.50,282.50 L612.00,279.35 L612.50,276.08 L613.00,272.67 L613.50,269.15 L614.00,265.52 L614.50,261.79 L615.00,257.98 L615.50,254.09 L616.00,250.15 L616.50,246.18 L617.00,242.18 L617.50,238.18 L618.00,234.20 L618.50,230.27 L619.00,226.39 L619.50,222.60 L620.00,218.92 L620.50,215.38 L621.00,211.98 L621.50,208.76 L622.00,205.74 L622.50,202.94 L623.00,200.37 L623.50,198.06 L624.00,196.02 L624.50,194.27 L625.00,192.82 L625.50,191.68 L626.00,190.86 L626.50,190.37 L627.00,190.20 L627.50,190.36 L628.00,190.84 L628.50,191.64 L629.00,192.75 L629.50,194.17 L630.00,195.87 L630.50,197.86 L631.00,200.11 L631.50,202.61 L632.00,205.34 L632.50,208.28 L633.00,211.42 L633.50,214.72 L634.00,218.18 L634.50,221.76 L635.00,225.44 L635.50,229.21 L636.00,233.03 L636.50,236.90 L637.00,240.78 L637.50,244.66 L638.00,248.52 L638.50,252.34 L639.00,256.10 L639.50,259.79 L640.00,263.40 L640.50,266.91 L641.00,270.32 L641.50,273.60 L642.00,276.77 L642.50,279.80 L643.00,282.70 L643.50,285.45 L644.00,288.07 L644.50,290.55 L645.00,292.88 L645.50,295.08 L646.00,297.13 L646.50,299.05 L647.00,300.84 L647.50,302.50 L648.00,304.04 L648.50,305.46 L649.00,306.76 L649.50,307.97 L650.00,309.07 L650.50,310.08 L651.00,310.99 L651.50,311.83 L652.00,312.59 L652.50,313.28 L653.00,313.91 L653.50,314.48 L654.00,314.99 L654.50,315.45 L655.00,315.87 L655.50,316.24 L656.00,316.58 L656.50,316.89 L657.00,317.16 L657.50,317.42 L658.00,317.64 L658.50,317.85 L659.00,318.04 L659.50,318.21 L660.00,318.37 L660.50,318.51 L661.00,318.65 L661.50,318.77 L662.00,318.89 L662.50,319.00 L663.00,319.10 L663.50,319.20 L664.00,319.29 L664.50,319.38 L665.00,319.47 L665.50,319.55 L666.00,319.63 L666.50,319.71 L667.00,319.79 L667.50,319.86 L668.00,319.93 L668.50,320.01 L669.00,320.08 L669.50,320.15 L670.00,320.22 L670.50,320.28 L671.00,320.35 L671.50,320.42 L672.00,320.48 L672.50,320.55 L673.00,320.61 L673.50,320.68 L674.00,320.74 L674.50,320.80 L675.00,320.86 L675.50,320.93 L676.00,320.99 L676.50,321.05 L677.00,321.11 L677.50,321.16 L678.00,321.22 L678.50,321.28 L679.00,321.34 L679.50,321.39 L680.00,321.45 L680.50,321.50 L681.00,321.56 L681.50,321.61 L682.00,321.66 L682.50,321.72 L683.00,321.77 L683.50,321.82 L684.00,321.87 L684.50,321.92 L685.00,321.97 L685.50,322.01 L686.00,322.06 L686.50,322.11 L687.00,322.15 L687.50,322.20 L688.00,322.24 L688.50,322.29 L689.00,322.33 L689.50,322.37 L690.00,322.41 L690.50,322.45 L691.00,322.49 L691.50,322.53 L692.00,322.57 L692.50,322.61 L693.00,322.64 L693.50,322.68 L694.00,322.72 L694.50,322.75 L695.00,322.78 L695.50,322.82 L696.00,322.85 L696.50,322.88 L697.00,322.91 L697.50,322.94 L698.00,322.97 L698.50,323.00 L699.00,323.03 L699.50,323.06 L700.00,323.09 L700.50,323.11 L701.00,323.14 L701.50,323.17 L702.00,323.19 L702.50,323.22 L703.00,323.24 L703.50,323.26 L704.00,323.29 L704.50,323.31 L705.00,323.33 L705.50,323.35 L706.00,323.37 L706.50,323.39 L707.00,323.41 L707.50,323.43 L708.00,323.45 L708.50,323.47 L709.00,323.48 L709.50,323.50 L710.00,323.52 L710.50,323.53 L711.00,323.55 L711.50,323.56 L712.00,323.58 L712.50,323.59 L713.00,323.61 L713.50,323.62 L714.00,323.63 L714.50,323.65 L715.00,323.66 L715.50,323.67 L716.00,323.68 L716.50,323.69 L717.00,323.71 L717.50,323.72 L718.00,323.73 L718.50,323.74 L719.00,323.75 L719.50,323.76 L720.00,323.76 L720.50,323.77 L721.00,323.78 L721.50,323.79 L722.00,323.80 L722.50,323.81 L723.00,323.81 L723.50,323.82 L724.00,323.83 L724.50,323.83 L725.00,323.84 L725.50,323.85 L726.00,323.85 L726.50,323.86 L727.00,323.86 L727.50,323.87 L728.00,323.88 L728.50,323.88 L729.00,323.89 L729.50,323.89 L730.00,323.89 L730.50,323.90 L731.00,323.90 L731.50,323.91 L732.00,323.91 L732.50,323.91 L733.00,323.92 L733.50,323.92 L734.00,323.92 L734.50,323.93 L735.00,323.93 L735.50,323.93 L736.00,323.94 L736.50,323.94 L737.00,323.94 L737.50,323.95 L738.00,323.95 L738.50,323.95 L739.00,323.95 L739.50,323.95 L740.00,323.96 L740.50,323.96 L741.00,323.96 L741.50,323.96 L742.00,323.96 L742.50,323.97 L743.00,323.97 L743.50,323.97 L744.00,323.97 L744.50,323.97 L745.00,323.97 L745.50,323.97 L746.00,323.98 L746.50,323.98 L747.00,323.98 L747.50,323.98 L748.00,323.98 L748.50,323.98 L749.00,323.98 L749.50,323.98 L750.00,323.98 L750.50,323.98 L751.00,323.98 L751.50,323.99 L752.00,323.99 L752.50,323.99 L753.00,323.99 L753.50,323.99 L754.00,323.99 L754.50,323.99 L755.00,323.99 L755.50,323.99 L756.00,323.99 L756.50,323.99 L757.00,323.99 L757.50,323.99 L758.00,323.99 L758.50,323.99 L759.00,323.99 L759.50,323.99 L760.00,323.99 L760.50,323.99 L761.00,323.99 L761.50,324.00 L762.00,324.00 L762.50,324.00 L763.00,324.00 L763.50,324.00 L764.00,324.00 L764.50,324.00 L765.00,324.00 L765.50,324.00 L766.00,324.00 L766.50,324.00 L767.00,324.00 L767.50,324.00 L768.00,324.00 L768.50,324.00 L769.00,324.00" fill="none" stroke="#e00000" stroke-width="1.1"/>
<line x1="536" y1="324" x2="769" y2="324" stroke="#f08080" stroke-width="1"/>
<line x1="664.4" y1="211" x2="647.36" y2="218.03" stroke="#000" stroke-width="3.0"/>
<path d="M635.80,222.80 L645.35,213.18 L649.36,222.89 z" fill="#000"/>
<line x1="664.4" y1="251.4" x2="658.08" y2="258.86" stroke="#000" stroke-width="3.0"/>
<path d="M650.00,268.40 L654.07,255.47 L662.09,262.26 z" fill="#000"/>
<path d="M518.80,484.90 C521.82,484.45 530.23,483.12 536.90,482.20 C543.57,481.28 551.50,480.32 558.80,479.40 C566.10,478.48 575.22,477.97 580.70,476.70 C586.18,475.43 588.25,473.98 591.70,471.80 C595.15,469.62 597.87,466.88 601.40,463.60 C604.93,460.32 608.85,456.15 612.90,452.10 C616.95,448.05 621.67,442.87 625.70,439.30 C629.73,435.73 633.92,432.72 637.10,430.70 C640.28,428.68 642.43,427.92 644.80,427.20 C647.17,426.48 649.15,426.07 651.30,426.40 C653.45,426.73 655.57,428.40 657.70,429.20 C659.83,430.00 661.97,430.47 664.10,431.20 C666.23,431.93 668.48,433.47 670.50,433.60 C672.52,433.73 674.05,433.20 676.20,432.00 C678.35,430.80 681.10,428.95 683.40,426.40 C685.70,423.85 687.58,420.30 690.00,416.70 C692.42,413.10 695.55,410.75 697.90,404.80 C700.25,398.85 701.82,388.70 704.10,381.00 C706.38,373.30 709.53,363.45 711.60,358.60 C713.67,353.75 714.87,351.75 716.50,351.90 C718.13,352.05 719.68,355.12 721.40,359.50 C723.12,363.88 724.23,367.62 726.80,378.20 C729.37,388.78 733.93,410.62 736.80,423.00 C739.67,435.38 740.80,443.92 744.00,452.50 C747.20,461.08 752.58,469.83 756.00,474.50 C759.42,479.17 761.83,478.75 764.50,480.50 C767.17,482.25 770.75,484.25 772.00,485.00 L772,486 L518.8,486 z" fill="rgba(0,255,255,0.5)"/>
<path d="M518.80,485.30 C521.82,485.05 530.23,484.42 536.90,483.80 C543.57,483.18 551.13,482.60 558.80,481.60 C566.47,480.60 577.42,479.25 582.90,477.80 C588.38,476.35 589.08,475.27 591.70,472.90 C594.32,470.53 596.27,466.82 598.60,463.60 C600.93,460.38 603.32,456.22 605.70,453.60 C608.08,450.98 610.03,450.52 612.90,447.90 C615.77,445.28 619.57,441.95 622.90,437.90 C626.23,433.85 630.28,427.65 632.90,423.60 C635.52,419.55 636.93,415.80 638.60,413.60 C640.27,411.40 641.48,410.40 642.90,410.40 C644.32,410.40 645.92,412.12 647.10,413.60 C648.28,415.08 649.10,417.40 650.00,419.30 C650.90,421.20 651.48,423.35 652.50,425.00 C653.52,426.65 654.70,428.63 656.10,429.20 C657.50,429.77 659.30,428.33 660.90,428.40 C662.50,428.47 663.97,429.07 665.70,429.60 C667.43,430.13 669.42,432.28 671.30,431.60 C673.18,430.92 674.98,427.72 677.00,425.50 C679.02,423.28 681.80,419.63 683.40,418.30 C685.00,416.97 685.50,417.37 686.60,417.50 C687.70,417.63 688.72,418.73 690.00,419.10 C691.28,419.47 692.70,420.27 694.30,419.70 C695.90,419.13 698.12,417.85 699.60,415.70 C701.08,413.55 702.00,410.82 703.20,406.80 C704.40,402.78 705.77,396.22 706.80,391.60 C707.83,386.98 708.30,384.16 709.40,379.10 C710.50,374.04 711.98,365.97 713.40,361.25 C714.82,356.53 716.04,354.14 717.90,350.80 C719.76,347.46 722.77,341.92 724.55,341.20 C726.33,340.48 727.56,343.70 728.60,346.50 C729.64,349.30 730.07,353.02 730.80,358.00 C731.53,362.98 731.35,364.57 733.00,376.40 C734.65,388.23 738.90,415.33 740.70,429.00 C742.50,442.67 742.00,450.73 743.80,458.40 C745.60,466.07 748.47,471.15 751.50,475.00 C754.53,478.85 758.58,479.78 762.00,481.50 C765.42,483.22 770.33,484.67 772.00,485.30 L772,486 L518.8,486 z" fill="rgba(255,0,0,0.5)"/>
<path d="M518.8,486 L518.80,486.00 L519.55,486.00 L519.55,486.00 L520.30,486.00 L520.30,486.00 L521.05,486.00 L521.05,486.00 L521.80,486.00 L521.80,486.00 L522.55,486.00 L522.55,486.00 L523.30,486.00 L523.30,485.94 L524.05,485.94 L524.05,485.88 L524.80,485.88 L524.80,485.82 L525.55,485.82 L525.55,485.76 L526.30,485.76 L526.30,485.70 L527.05,485.70 L527.05,485.64 L527.80,485.64 L527.80,485.58 L528.55,485.58 L528.55,485.52 L529.30,485.52 L529.30,485.46 L530.05,485.46 L530.05,485.40 L530.80,485.40 L530.80,485.33 L531.55,485.33 L531.55,485.27 L532.30,485.27 L532.30,485.21 L533.05,485.21 L533.05,485.14 L533.80,485.14 L533.80,485.08 L534.55,485.08 L534.55,485.01 L535.30,485.01 L535.30,484.95 L536.05,484.95 L536.05,484.88 L536.80,484.88 L536.80,484.81 L537.55,484.81 L537.55,484.74 L538.30,484.74 L538.30,484.67 L539.05,484.67 L539.05,484.60 L539.80,484.60 L539.80,484.54 L540.55,484.54 L540.55,484.47 L541.30,484.47 L541.30,484.40 L542.05,484.40 L542.05,484.34 L542.80,484.34 L542.80,484.27 L543.55,484.27 L543.55,484.20 L544.30,484.20 L544.30,484.14 L545.05,484.14 L545.05,484.07 L545.80,484.07 L545.80,484.00 L546.55,484.00 L546.55,483.93 L547.30,483.93 L547.30,483.86 L548.05,483.86 L548.05,483.79 L548.80,483.79 L548.80,483.72 L549.55,483.72 L549.55,483.64 L550.30,483.64 L550.30,483.57 L551.05,483.57 L551.05,483.49 L551.80,483.49 L551.80,483.42 L552.55,483.42 L552.55,483.34 L553.30,483.34 L553.30,483.26 L554.05,483.26 L554.05,483.17 L554.80,483.17 L554.80,483.09 L555.55,483.09 L555.55,483.00 L556.30,483.00 L556.30,476.01 L557.05,476.01 L557.05,480.23 L557.80,480.23 L557.80,478.64 L558.55,478.64 L558.55,476.85 L559.30,476.85 L559.30,479.77 L560.05,479.77 L560.05,477.99 L560.80,477.99 L560.80,480.14 L561.55,480.14 L561.55,476.90 L562.30,476.90 L562.30,476.32 L563.05,476.32 L563.05,477.18 L563.80,477.18 L563.80,475.57 L564.55,475.57 L564.55,478.28 L565.30,478.28 L565.30,476.28 L566.05,476.28 L566.05,476.68 L566.80,476.68 L566.80,476.65 L567.55,476.65 L567.55,477.17 L568.30,477.17 L568.30,475.15 L569.05,475.15 L569.05,474.52 L569.80,474.52 L569.80,476.77 L570.55,476.77 L570.55,475.71 L571.30,475.71 L571.30,478.62 L572.05,478.62 L572.05,475.30 L572.80,475.30 L572.80,475.46 L573.55,475.46 L573.55,473.62 L574.30,473.62 L574.30,474.36 L575.05,474.36 L575.05,473.36 L575.80,473.36 L575.80,472.53 L576.55,472.53 L576.55,470.42 L577.30,470.42 L577.30,474.81 L578.05,474.81 L578.05,471.61 L578.80,471.61 L578.80,473.52 L579.55,473.52 L579.55,473.73 L580.30,473.73 L580.30,473.99 L581.05,473.99 L581.05,468.86 L581.80,468.86 L581.80,473.17 L582.55,473.17 L582.55,472.16 L583.30,472.16 L583.30,470.96 L584.05,470.96 L584.05,467.38 L584.80,467.38 L584.80,472.69 L585.55,472.69 L585.55,469.86 L586.30,469.86 L586.30,468.88 L587.05,468.88 L587.05,466.22 L587.80,466.22 L587.80,466.30 L588.55,466.30 L588.55,465.53 L589.30,465.53 L589.30,469.09 L590.05,469.09 L590.05,467.50 L590.80,467.50 L590.80,467.22 L591.55,467.22 L591.55,462.85 L592.30,462.85 L592.30,461.62 L593.05,461.62 L593.05,466.45 L593.80,466.45 L593.80,465.36 L594.55,465.36 L594.55,463.96 L595.30,463.96 L595.30,462.87 L596.05,462.87 L596.05,459.98 L596.80,459.98 L596.80,458.11 L597.55,458.11 L597.55,459.27 L598.30,459.27 L598.30,459.99 L599.05,459.99 L599.05,456.04 L599.80,456.04 L599.80,455.30 L600.55,455.30 L600.55,452.80 L601.30,452.80 L601.30,448.96 L602.05,448.96 L602.05,449.66 L602.80,449.66 L602.80,449.78 L603.55,449.78 L603.55,447.99 L604.30,447.99 L604.30,446.56 L605.05,446.56 L605.05,449.97 L605.80,449.97 L605.80,443.19 L606.55,443.19 L606.55,443.28 L607.30,443.28 L607.30,441.96 L608.05,441.96 L608.05,441.91 L608.80,441.91 L608.80,444.22 L609.55,444.22 L609.55,443.67 L610.30,443.67 L610.30,445.23 L611.05,445.23 L611.05,440.98 L611.80,440.98 L611.80,444.41 L612.55,444.41 L612.55,443.74 L613.30,443.74 L613.30,442.07 L614.05,442.07 L614.05,441.72 L614.80,441.72 L614.80,439.79 L615.55,439.79 L615.55,441.12 L616.30,441.12 L616.30,440.79 L617.05,440.79 L617.05,439.02 L617.80,439.02 L617.80,438.65 L618.55,438.65 L618.55,436.09 L619.30,436.09 L619.30,437.70 L620.05,437.70 L620.05,430.98 L620.80,430.98 L620.80,432.01 L621.55,432.01 L621.55,434.44 L622.30,434.44 L622.30,432.85 L623.05,432.85 L623.05,431.29 L623.80,431.29 L623.80,430.23 L624.55,430.23 L624.55,430.94 L625.30,430.94 L625.30,424.86 L626.05,424.86 L626.05,422.82 L626.80,422.82 L626.80,425.46 L627.55,425.46 L627.55,435.20 L628.30,435.20 L628.30,435.30 L629.05,435.30 L629.05,434.15 L629.80,434.15 L629.80,432.31 L630.55,432.31 L630.55,431.41 L631.30,431.41 L631.30,428.58 L632.05,428.58 L632.05,429.43 L632.80,429.43 L632.80,428.69 L633.55,428.69 L633.55,424.71 L634.30,424.71 L634.30,424.70 L635.05,424.70 L635.05,424.48 L635.80,424.48 L635.80,421.87 L636.55,421.87 L636.55,421.97 L637.30,421.97 L637.30,419.07 L638.05,419.07 L638.05,416.46 L638.80,416.46 L638.80,415.75 L639.55,415.75 L639.55,415.34 L640.30,415.34 L640.30,415.86 L641.05,415.86 L641.05,414.93 L641.80,414.93 L641.80,415.11 L642.55,415.11 L642.55,413.11 L643.30,413.11 L643.30,413.85 L644.05,413.85 L644.05,413.39 L644.80,413.39 L644.80,415.22 L645.55,415.22 L645.55,416.19 L646.30,416.19 L646.30,415.21 L647.05,415.21 L647.05,415.58 L647.80,415.58 L647.80,417.07 L648.55,417.07 L648.55,418.65 L649.30,418.65 L649.30,420.28 L650.05,420.28 L650.05,422.19 L650.80,422.19 L650.80,425.52 L651.55,425.52 L651.55,415.99 L652.30,415.99 L652.30,418.53 L653.05,418.53 L653.05,421.71 L653.80,421.71 L653.80,422.86 L654.55,422.86 L654.55,421.47 L655.30,421.47 L655.30,422.38 L656.05,422.38 L656.05,418.95 L656.80,418.95 L656.80,416.72 L657.55,416.72 L657.55,421.22 L658.30,421.22 L658.30,416.60 L659.05,416.60 L659.05,415.88 L659.80,415.88 L659.80,415.95 L660.55,415.95 L660.55,421.13 L661.30,421.13 L661.30,422.44 L662.05,422.44 L662.05,422.49 L662.80,422.49 L662.80,422.93 L663.55,422.93 L663.55,423.07 L664.30,423.07 L664.30,419.53 L665.05,419.53 L665.05,417.29 L665.80,417.29 L665.80,418.07 L666.55,418.07 L666.55,421.65 L667.30,421.65 L667.30,420.51 L668.05,420.51 L668.05,419.64 L668.80,419.64 L668.80,426.48 L669.55,426.48 L669.55,421.61 L670.30,421.61 L670.30,419.53 L671.05,419.53 L671.05,420.63 L671.80,420.63 L671.80,420.61 L672.55,420.61 L672.55,422.50 L673.30,422.50 L673.30,424.46 L674.05,424.46 L674.05,418.08 L674.80,418.08 L674.80,421.24 L675.55,421.24 L675.55,416.05 L676.30,416.05 L676.30,413.57 L677.05,413.57 L677.05,417.88 L677.80,417.88 L677.80,416.98 L678.55,416.98 L678.55,411.20 L679.30,411.20 L679.30,412.30 L680.05,412.30 L680.05,416.40 L680.80,416.40 L680.80,415.90 L681.55,415.90 L681.55,414.82 L682.30,414.82 L682.30,407.22 L683.05,407.22 L683.05,407.35 L683.80,407.35 L683.80,412.67 L684.55,412.67 L684.55,406.09 L685.30,406.09 L685.30,404.52 L686.05,404.52 L686.05,407.50 L686.80,407.50 L686.80,410.38 L687.55,410.38 L687.55,408.88 L688.30,408.88 L688.30,423.47 L689.05,423.47 L689.05,424.61 L689.80,424.61 L689.80,419.21 L690.55,419.21 L690.55,421.38 L691.30,421.38 L691.30,422.38 L692.05,422.38 L692.05,420.15 L692.80,420.15 L692.80,423.28 L693.55,423.28 L693.55,420.64 L694.30,420.64 L694.30,420.74 L695.05,420.74 L695.05,424.13 L695.80,424.13 L695.80,423.52 L696.55,423.52 L696.55,422.83 L697.30,422.83 L697.30,422.63 L698.05,422.63 L698.05,419.93 L698.80,419.93 L698.80,421.15 L699.55,421.15 L699.55,419.26 L700.30,419.26 L700.30,419.78 L701.05,419.78 L701.05,413.59 L701.80,413.59 L701.80,415.04 L702.55,415.04 L702.55,412.18 L703.30,412.18 L703.30,408.96 L704.05,408.96 L704.05,404.25 L704.80,404.25 L704.80,404.04 L705.55,404.04 L705.55,397.75 L706.30,397.75 L706.30,396.85 L707.05,396.85 L707.05,393.28 L707.80,393.28 L707.80,389.74 L708.55,389.74 L708.55,389.04 L709.30,389.04 L709.30,382.92 L710.05,382.92 L710.05,380.91 L710.80,380.91 L710.80,378.33 L711.55,378.33 L711.55,369.99 L712.30,369.99 L712.30,370.42 L713.05,370.42 L713.05,365.64 L713.80,365.64 L713.80,361.61 L714.55,361.61 L714.55,360.46 L715.30,360.46 L715.30,359.97 L716.05,359.97 L716.05,357.19 L716.80,357.19 L716.80,355.49 L717.55,355.49 L717.55,352.73 L718.30,352.73 L718.30,355.44 L719.05,355.44 L719.05,351.37 L719.80,351.37 L719.80,351.93 L720.55,351.93 L720.55,339.83 L721.30,339.83 L721.30,332.68 L722.05,332.68 L722.05,334.72 L722.80,334.72 L722.80,333.06 L723.55,333.06 L723.55,329.83 L724.30,329.83 L724.30,327.38 L725.05,327.38 L725.05,332.78 L725.80,332.78 L725.80,330.99 L726.55,330.99 L726.55,333.02 L727.30,333.02 L727.30,334.20 L728.05,334.20 L728.05,333.74 L728.80,333.74 L728.80,338.64 L729.55,338.64 L729.55,340.60 L730.30,340.60 L730.30,345.80 L731.05,345.80 L731.05,345.07 L731.80,345.07 L731.80,349.24 L732.55,349.24 L732.55,353.65 L733.30,353.65 L733.30,359.24 L734.05,359.24 L734.05,368.34 L734.80,368.34 L734.80,373.27 L735.55,373.27 L735.55,377.43 L736.30,377.43 L736.30,382.84 L737.05,382.84 L737.05,389.98 L737.80,389.98 L737.80,395.03 L738.55,395.03 L738.55,399.06 L739.30,399.06 L739.30,405.18 L740.05,405.18 L740.05,409.71 L740.80,409.71 L740.80,415.30 L741.55,415.30 L741.55,418.69 L742.30,418.69 L742.30,423.68 L743.05,423.68 L743.05,429.14 L743.80,429.14 L743.80,439.17 L744.55,439.17 L744.55,447.74 L745.30,447.74 L745.30,453.96 L746.05,453.96 L746.05,458.99 L746.80,458.99 L746.80,459.42 L747.55,459.42 L747.55,461.38 L748.30,461.38 L748.30,465.52 L749.05,465.52 L749.05,464.99 L749.80,464.99 L749.80,468.14 L750.55,468.14 L750.55,471.81 L751.30,471.81 L751.30,472.40 L752.05,472.40 L752.05,473.59 L752.80,473.59 L752.80,475.21 L753.55,475.21 L753.55,475.75 L754.30,475.75 L754.30,476.36 L755.05,476.36 L755.05,477.14 L755.80,477.14 L755.80,477.81 L756.55,477.81 L756.55,478.15 L757.30,478.15 L757.30,478.17 L758.05,478.17 L758.05,479.25 L758.80,479.25 L758.80,479.07 L759.55,479.07 L759.55,479.52 L760.30,479.52 L760.30,480.26 L761.05,480.26 L761.05,480.27 L761.80,480.27 L761.80,480.31 L762.55,480.31 L762.55,480.77 L763.30,480.77 L763.30,481.58 L764.05,481.58 L764.05,481.01 L764.80,481.01 L764.80,481.54 L765.55,481.54 L765.55,481.67 L766.30,481.67 L766.30,482.83 L767.05,482.83 L767.05,482.96 L767.80,482.96 L767.80,483.46 L768.55,483.46 L768.55,482.99 L769.30,482.99 L769.30,483.76 L770.05,483.76 L770.05,484.16 L770.80,484.16 L770.80,484.12 L771.55,484.12 L771.55,483.88 L772.30,483.88 L772,486 z" fill="rgba(128,128,128,0.52)"/>
<path d="M518.80,484.90 C521.82,484.45 530.23,483.12 536.90,482.20 C543.57,481.28 551.50,480.32 558.80,479.40 C566.10,478.48 575.22,477.97 580.70,476.70 C586.18,475.43 588.25,473.98 591.70,471.80 C595.15,469.62 597.87,466.88 601.40,463.60 C604.93,460.32 608.85,456.15 612.90,452.10 C616.95,448.05 621.67,442.87 625.70,439.30 C629.73,435.73 633.92,432.72 637.10,430.70 C640.28,428.68 642.43,427.92 644.80,427.20 C647.17,426.48 649.15,426.07 651.30,426.40 C653.45,426.73 655.57,428.40 657.70,429.20 C659.83,430.00 661.97,430.47 664.10,431.20 C666.23,431.93 668.48,433.47 670.50,433.60 C672.52,433.73 674.05,433.20 676.20,432.00 C678.35,430.80 681.10,428.95 683.40,426.40 C685.70,423.85 687.58,420.30 690.00,416.70 C692.42,413.10 695.55,410.75 697.90,404.80 C700.25,398.85 701.82,388.70 704.10,381.00 C706.38,373.30 709.53,363.45 711.60,358.60 C713.67,353.75 714.87,351.75 716.50,351.90 C718.13,352.05 719.68,355.12 721.40,359.50 C723.12,363.88 724.23,367.62 726.80,378.20 C729.37,388.78 733.93,410.62 736.80,423.00 C739.67,435.38 740.80,443.92 744.00,452.50 C747.20,461.08 752.58,469.83 756.00,474.50 C759.42,479.17 761.83,478.75 764.50,480.50 C767.17,482.25 770.75,484.25 772.00,485.00" fill="none" stroke="#00f0f8" stroke-width="1.2"/>
<path d="M518.80,485.30 C521.82,485.05 530.23,484.42 536.90,483.80 C543.57,483.18 551.13,482.60 558.80,481.60 C566.47,480.60 577.42,479.25 582.90,477.80 C588.38,476.35 589.08,475.27 591.70,472.90 C594.32,470.53 596.27,466.82 598.60,463.60 C600.93,460.38 603.32,456.22 605.70,453.60 C608.08,450.98 610.03,450.52 612.90,447.90 C615.77,445.28 619.57,441.95 622.90,437.90 C626.23,433.85 630.28,427.65 632.90,423.60 C635.52,419.55 636.93,415.80 638.60,413.60 C640.27,411.40 641.48,410.40 642.90,410.40 C644.32,410.40 645.92,412.12 647.10,413.60 C648.28,415.08 649.10,417.40 650.00,419.30 C650.90,421.20 651.48,423.35 652.50,425.00 C653.52,426.65 654.70,428.63 656.10,429.20 C657.50,429.77 659.30,428.33 660.90,428.40 C662.50,428.47 663.97,429.07 665.70,429.60 C667.43,430.13 669.42,432.28 671.30,431.60 C673.18,430.92 674.98,427.72 677.00,425.50 C679.02,423.28 681.80,419.63 683.40,418.30 C685.00,416.97 685.50,417.37 686.60,417.50 C687.70,417.63 688.72,418.73 690.00,419.10 C691.28,419.47 692.70,420.27 694.30,419.70 C695.90,419.13 698.12,417.85 699.60,415.70 C701.08,413.55 702.00,410.82 703.20,406.80 C704.40,402.78 705.77,396.22 706.80,391.60 C707.83,386.98 708.30,384.16 709.40,379.10 C710.50,374.04 711.98,365.97 713.40,361.25 C714.82,356.53 716.04,354.14 717.90,350.80 C719.76,347.46 722.77,341.92 724.55,341.20 C726.33,340.48 727.56,343.70 728.60,346.50 C729.64,349.30 730.07,353.02 730.80,358.00 C731.53,362.98 731.35,364.57 733.00,376.40 C734.65,388.23 738.90,415.33 740.70,429.00 C742.50,442.67 742.00,450.73 743.80,458.40 C745.60,466.07 748.47,471.15 751.50,475.00 C754.53,478.85 758.58,479.78 762.00,481.50 C765.42,483.22 770.33,484.67 772.00,485.30" fill="none" stroke="#f00000" stroke-width="1.15"/>
</svg></body></html>
